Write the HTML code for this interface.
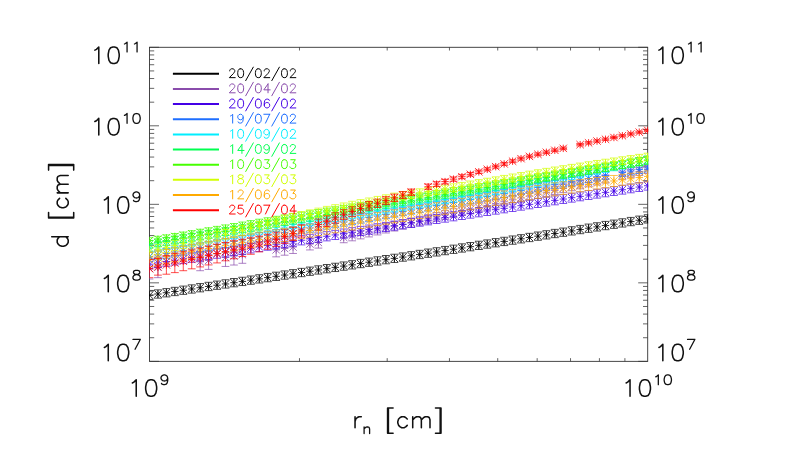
<!DOCTYPE html>
<html><head><meta charset="utf-8"><title>d vs r_n</title>
<style>html,body{margin:0;padding:0;background:#fff;overflow:hidden;font-family:"Liberation Sans",sans-serif;}svg{display:block}</style></head>
<body>
<svg width="797" height="456" viewBox="0 0 797 456">
<rect x="0" y="0" width="797" height="456" fill="#ffffff"/>
<g fill="none" stroke="#333" stroke-width="0.90" stroke-linecap="butt">
<rect x="149.50" y="47.30" width="498.20" height="314.05"/>
<path stroke-width="0.75" d="M149.50 361.35h9.50M647.70 361.35h-9.50M149.50 337.72h4.70M647.70 337.72h-4.70M149.50 323.89h4.70M647.70 323.89h-4.70M149.50 314.08h4.70M647.70 314.08h-4.70M149.50 306.47h4.70M647.70 306.47h-4.70M149.50 300.26h4.70M647.70 300.26h-4.70M149.50 295.00h4.70M647.70 295.00h-4.70M149.50 290.45h4.70M647.70 290.45h-4.70M149.50 286.43h4.70M647.70 286.43h-4.70M149.50 282.84h9.50M647.70 282.84h-9.50M149.50 259.20h4.70M647.70 259.20h-4.70M149.50 245.38h4.70M647.70 245.38h-4.70M149.50 235.57h4.70M647.70 235.57h-4.70M149.50 227.96h4.70M647.70 227.96h-4.70M149.50 221.74h4.70M647.70 221.74h-4.70M149.50 216.49h4.70M647.70 216.49h-4.70M149.50 211.93h4.70M647.70 211.93h-4.70M149.50 207.92h4.70M647.70 207.92h-4.70M149.50 204.33h9.50M647.70 204.33h-9.50M149.50 180.69h4.70M647.70 180.69h-4.70M149.50 166.87h4.70M647.70 166.87h-4.70M149.50 157.06h4.70M647.70 157.06h-4.70M149.50 149.45h4.70M647.70 149.45h-4.70M149.50 143.23h4.70M647.70 143.23h-4.70M149.50 137.97h4.70M647.70 137.97h-4.70M149.50 133.42h4.70M647.70 133.42h-4.70M149.50 129.41h4.70M647.70 129.41h-4.70M149.50 125.81h9.50M647.70 125.81h-9.50M149.50 102.18h4.70M647.70 102.18h-4.70M149.50 88.35h4.70M647.70 88.35h-4.70M149.50 78.54h4.70M647.70 78.54h-4.70M149.50 70.93h4.70M647.70 70.93h-4.70M149.50 64.72h4.70M647.70 64.72h-4.70M149.50 59.46h4.70M647.70 59.46h-4.70M149.50 54.91h4.70M647.70 54.91h-4.70M149.50 50.89h4.70M647.70 50.89h-4.70M149.50 47.30h9.50M647.70 47.30h-9.50M299.47 361.35v-3.20M299.47 47.30v3.20M387.20 361.35v-3.20M387.20 47.30v3.20M449.45 361.35v-3.20M449.45 47.30v3.20M497.73 361.35v-3.20M497.73 47.30v3.20M537.17 361.35v-3.20M537.17 47.30v3.20M570.53 361.35v-3.20M570.53 47.30v3.20M599.42 361.35v-3.20M599.42 47.30v3.20M624.90 361.35v-3.20M624.90 47.30v3.20"/>
</g>
<defs><clipPath id="c"><rect x="149.50" y="47.30" width="498.70" height="314.05"/></clipPath></defs>
<g clip-path="url(#c)" fill="none" stroke-width="0.78" stroke-linecap="butt">
<path stroke="#000000" stroke-width="0.70" d="M149.50 291.10V299.40M145.60 291.10H153.40M145.60 299.40H153.40M157.94 289.85V298.15M154.04 289.85H161.84M154.04 298.15H161.84M166.39 288.60V296.90M162.49 288.60H170.29M162.49 296.90H170.29M174.83 287.34V295.64M170.93 287.34H178.73M170.93 295.64H178.73M183.28 286.09V294.39M179.38 286.09H187.18M179.38 294.39H187.18M191.72 284.83V293.13M187.82 284.83H195.62M187.82 293.13H195.62M200.16 283.57V291.87M196.26 283.57H204.06M196.26 291.87H204.06M208.61 282.31V290.61M204.71 282.31H212.51M204.71 290.61H212.51M217.05 281.05V289.35M213.15 281.05H220.95M213.15 289.35H220.95M225.50 279.79V288.09M221.60 279.79H229.40M221.60 288.09H229.40M233.94 278.53V286.82M230.04 278.53H237.84M230.04 286.82H237.84M242.38 277.26V285.56M238.48 277.26H246.28M238.48 285.56H246.28M250.83 275.99V284.29M246.93 275.99H254.73M246.93 284.29H254.73M259.27 274.72V283.02M255.37 274.72H263.17M255.37 283.02H263.17M267.72 273.45V281.75M263.82 273.45H271.62M263.82 281.75H271.62M276.16 272.18V280.48M272.26 272.18H280.06M272.26 280.48H280.06M284.61 270.91V279.21M280.71 270.91H288.51M280.71 279.21H288.51M293.05 269.63V277.93M289.15 269.63H296.95M289.15 277.93H296.95M301.49 268.36V276.66M297.59 268.36H305.39M297.59 276.66H305.39M309.94 267.08V275.38M306.04 267.08H313.84M306.04 275.38H313.84M318.38 265.80V274.10M314.48 265.80H322.28M314.48 274.10H322.28M326.83 264.52V272.82M322.93 264.52H330.73M322.93 272.82H330.73M335.27 263.24V271.54M331.37 263.24H339.17M331.37 271.54H339.17M343.71 261.95V270.25M339.81 261.95H347.61M339.81 270.25H347.61M352.16 260.67V268.97M348.26 260.67H356.06M348.26 268.97H356.06M360.60 259.38V267.68M356.70 259.38H364.50M356.70 267.68H364.50M369.05 258.09V266.39M365.15 258.09H372.95M365.15 266.39H372.95M377.49 256.80V265.10M373.59 256.80H381.39M373.59 265.10H381.39M385.93 255.51V263.81M382.03 255.51H389.83M382.03 263.81H389.83M394.38 254.22V262.52M390.48 254.22H398.28M390.48 262.52H398.28M402.82 252.92V261.22M398.92 252.92H406.72M398.92 261.22H406.72M411.27 251.63V259.93M407.37 251.63H415.17M407.37 259.93H415.17M419.71 250.33V258.63M415.81 250.33H423.61M415.81 258.63H423.61M428.15 249.03V257.33M424.25 249.03H432.05M424.25 257.33H432.05M436.60 247.73V256.03M432.70 247.73H440.50M432.70 256.03H440.50M445.04 246.43V254.73M441.14 246.43H448.94M441.14 254.73H448.94M453.49 245.13V253.43M449.59 245.13H457.39M449.59 253.43H457.39M461.93 243.82V252.12M458.03 243.82H465.83M458.03 252.12H465.83M470.37 242.52V250.82M466.47 242.52H474.27M466.47 250.82H474.27M478.82 241.21V249.51M474.92 241.21H482.72M474.92 249.51H482.72M487.26 239.90V248.20M483.36 239.90H491.16M483.36 248.20H491.16M495.71 238.59V246.89M491.81 238.59H499.61M491.81 246.89H499.61M504.15 237.28V245.58M500.25 237.28H508.05M500.25 245.58H508.05M512.59 235.96V244.26M508.69 235.96H516.49M508.69 244.26H516.49M521.04 234.65V242.95M517.14 234.65H524.94M517.14 242.95H524.94M529.48 233.33V241.63M525.58 233.33H533.38M525.58 241.63H533.38M537.93 232.01V240.31M534.03 232.01H541.83M534.03 240.31H541.83M546.37 230.69V238.99M542.47 230.69H550.27M542.47 238.99H550.27M554.82 229.37V237.67M550.92 229.37H558.72M550.92 237.67H558.72M563.26 228.05V236.35M559.36 228.05H567.16M559.36 236.35H567.16M571.70 226.72V235.03M567.80 226.72H575.60M567.80 235.03H575.60M580.15 225.40V233.70M576.25 225.40H584.05M576.25 233.70H584.05M588.59 224.07V232.37M584.69 224.07H592.49M584.69 232.37H592.49M597.04 222.74V231.04M593.14 222.74H600.94M593.14 231.04H600.94M605.48 221.41V229.71M601.58 221.41H609.38M601.58 229.71H609.38M613.92 220.08V228.38M610.02 220.08H617.82M610.02 228.38H617.82M622.37 218.75V227.05M618.47 218.75H626.27M618.47 227.05H626.27M630.81 217.41V225.71M626.91 217.41H634.71M626.91 225.71H634.71M639.26 216.08V224.38M635.36 216.08H643.16M635.36 224.38H643.16M647.70 214.74V223.04M643.80 214.74H651.60M643.80 223.04H651.60"/>
<path stroke="#000000" stroke-width="0.82" d="M145.80 295.25H153.20M149.50 291.55V298.95M145.80 291.55L153.20 298.95M145.80 298.95L153.20 291.55M154.24 294.00H161.64M157.94 290.30V297.70M154.24 290.30L161.64 297.70M154.24 297.70L161.64 290.30M162.69 292.75H170.09M166.39 289.05V296.45M162.69 289.05L170.09 296.45M162.69 296.45L170.09 289.05M171.13 291.49H178.53M174.83 287.79V295.19M171.13 287.79L178.53 295.19M171.13 295.19L178.53 287.79M179.58 290.24H186.98M183.28 286.54V293.94M179.58 286.54L186.98 293.94M179.58 293.94L186.98 286.54M188.02 288.98H195.42M191.72 285.28V292.68M188.02 285.28L195.42 292.68M188.02 292.68L195.42 285.28M196.46 287.72H203.86M200.16 284.02V291.42M196.46 284.02L203.86 291.42M196.46 291.42L203.86 284.02M204.91 286.46H212.31M208.61 282.76V290.16M204.91 282.76L212.31 290.16M204.91 290.16L212.31 282.76M213.35 285.20H220.75M217.05 281.50V288.90M213.35 281.50L220.75 288.90M213.35 288.90L220.75 281.50M221.80 283.94H229.20M225.50 280.24V287.64M221.80 280.24L229.20 287.64M221.80 287.64L229.20 280.24M230.24 282.68H237.64M233.94 278.98V286.38M230.24 278.98L237.64 286.38M230.24 286.38L237.64 278.98M238.68 281.41H246.08M242.38 277.71V285.11M238.68 277.71L246.08 285.11M238.68 285.11L246.08 277.71M247.13 280.14H254.53M250.83 276.44V283.84M247.13 276.44L254.53 283.84M247.13 283.84L254.53 276.44M255.57 278.87H262.97M259.27 275.17V282.57M255.57 275.17L262.97 282.57M255.57 282.57L262.97 275.17M264.02 277.60H271.42M267.72 273.90V281.30M264.02 273.90L271.42 281.30M264.02 281.30L271.42 273.90M272.46 276.33H279.86M276.16 272.63V280.03M272.46 272.63L279.86 280.03M272.46 280.03L279.86 272.63M280.91 275.06H288.31M284.61 271.36V278.76M280.91 271.36L288.31 278.76M280.91 278.76L288.31 271.36M289.35 273.78H296.75M293.05 270.08V277.48M289.35 270.08L296.75 277.48M289.35 277.48L296.75 270.08M297.79 272.51H305.19M301.49 268.81V276.21M297.79 268.81L305.19 276.21M297.79 276.21L305.19 268.81M306.24 271.23H313.64M309.94 267.53V274.93M306.24 267.53L313.64 274.93M306.24 274.93L313.64 267.53M314.68 269.95H322.08M318.38 266.25V273.65M314.68 266.25L322.08 273.65M314.68 273.65L322.08 266.25M323.13 268.67H330.53M326.83 264.97V272.37M323.13 264.97L330.53 272.37M323.13 272.37L330.53 264.97M331.57 267.39H338.97M335.27 263.69V271.09M331.57 263.69L338.97 271.09M331.57 271.09L338.97 263.69M340.01 266.10H347.41M343.71 262.40V269.80M340.01 262.40L347.41 269.80M340.01 269.80L347.41 262.40M348.46 264.82H355.86M352.16 261.12V268.52M348.46 261.12L355.86 268.52M348.46 268.52L355.86 261.12M356.90 263.53H364.30M360.60 259.83V267.23M356.90 259.83L364.30 267.23M356.90 267.23L364.30 259.83M365.35 262.24H372.75M369.05 258.54V265.94M365.35 258.54L372.75 265.94M365.35 265.94L372.75 258.54M373.79 260.95H381.19M377.49 257.25V264.65M373.79 257.25L381.19 264.65M373.79 264.65L381.19 257.25M382.23 259.66H389.63M385.93 255.96V263.36M382.23 255.96L389.63 263.36M382.23 263.36L389.63 255.96M390.68 258.37H398.08M394.38 254.67V262.07M390.68 254.67L398.08 262.07M390.68 262.07L398.08 254.67M399.12 257.07H406.52M402.82 253.38V260.77M399.12 253.38L406.52 260.77M399.12 260.77L406.52 253.38M407.57 255.78H414.97M411.27 252.08V259.48M407.57 252.08L414.97 259.48M407.57 259.48L414.97 252.08M416.01 254.48H423.41M419.71 250.78V258.18M416.01 250.78L423.41 258.18M416.01 258.18L423.41 250.78M424.45 253.18H431.85M428.15 249.48V256.88M424.45 249.48L431.85 256.88M424.45 256.88L431.85 249.48M432.90 251.88H440.30M436.60 248.18V255.58M432.90 248.18L440.30 255.58M432.90 255.58L440.30 248.18M441.34 250.58H448.74M445.04 246.88V254.28M441.34 246.88L448.74 254.28M441.34 254.28L448.74 246.88M449.79 249.28H457.19M453.49 245.58V252.98M449.79 245.58L457.19 252.98M449.79 252.98L457.19 245.58M458.23 247.97H465.63M461.93 244.27V251.67M458.23 244.27L465.63 251.67M458.23 251.67L465.63 244.27M466.67 246.67H474.07M470.37 242.97V250.37M466.67 242.97L474.07 250.37M466.67 250.37L474.07 242.97M475.12 245.36H482.52M478.82 241.66V249.06M475.12 241.66L482.52 249.06M475.12 249.06L482.52 241.66M483.56 244.05H490.96M487.26 240.35V247.75M483.56 240.35L490.96 247.75M483.56 247.75L490.96 240.35M492.01 242.74H499.41M495.71 239.04V246.44M492.01 239.04L499.41 246.44M492.01 246.44L499.41 239.04M500.45 241.43H507.85M504.15 237.73V245.13M500.45 237.73L507.85 245.13M500.45 245.13L507.85 237.73M508.89 240.11H516.29M512.59 236.41V243.81M508.89 236.41L516.29 243.81M508.89 243.81L516.29 236.41M517.34 238.80H524.74M521.04 235.10V242.50M517.34 235.10L524.74 242.50M517.34 242.50L524.74 235.10M525.78 237.48H533.18M529.48 233.78V241.18M525.78 233.78L533.18 241.18M525.78 241.18L533.18 233.78M534.23 236.16H541.63M537.93 232.46V239.86M534.23 232.46L541.63 239.86M534.23 239.86L541.63 232.46M542.67 234.84H550.07M546.37 231.14V238.54M542.67 231.14L550.07 238.54M542.67 238.54L550.07 231.14M551.12 233.52H558.52M554.82 229.82V237.22M551.12 229.82L558.52 237.22M551.12 237.22L558.52 229.82M559.56 232.20H566.96M563.26 228.50V235.90M559.56 228.50L566.96 235.90M559.56 235.90L566.96 228.50M568.00 230.88H575.40M571.70 227.18V234.57M568.00 227.18L575.40 234.57M568.00 234.57L575.40 227.18M576.45 229.55H583.85M580.15 225.85V233.25M576.45 225.85L583.85 233.25M576.45 233.25L583.85 225.85M584.89 228.22H592.29M588.59 224.52V231.92M584.89 224.52L592.29 231.92M584.89 231.92L592.29 224.52M593.34 226.89H600.74M597.04 223.19V230.59M593.34 223.19L600.74 230.59M593.34 230.59L600.74 223.19M601.78 225.56H609.18M605.48 221.86V229.26M601.78 221.86L609.18 229.26M601.78 229.26L609.18 221.86M610.22 224.23H617.62M613.92 220.53V227.93M610.22 220.53L617.62 227.93M610.22 227.93L617.62 220.53M618.67 222.90H626.07M622.37 219.20V226.60M618.67 219.20L626.07 226.60M618.67 226.60L626.07 219.20M627.11 221.56H634.51M630.81 217.86V225.26M627.11 217.86L634.51 225.26M627.11 225.26L634.51 217.86M635.56 220.23H642.96M639.26 216.53V223.93M635.56 216.53L642.96 223.93M635.56 223.93L642.96 216.53M644.00 218.89H651.40M647.70 215.19V222.59M644.00 215.19L651.40 222.59M644.00 222.59L651.40 215.19"/>
<path stroke="#8A4CAC" stroke-width="0.70" d="M149.50 258.00V279.00M145.60 258.00H153.40M145.60 279.00H153.40M157.94 257.06V277.66M154.04 257.06H161.84M154.04 277.66H161.84M200.16 252.91V270.71M196.26 252.91H204.06M196.26 270.71H204.06M208.61 251.50V269.40M204.71 251.50H212.51M204.71 269.40H212.51M225.50 248.34V266.44M221.60 248.34H229.40M221.60 266.44H229.40M233.94 246.83V265.03M230.04 246.83H237.84M230.04 265.03H237.84M242.38 245.94V263.30M238.48 245.94H246.28M238.48 263.30H246.28M276.16 242.84V256.84M272.26 242.84H280.06M272.26 256.84H280.06M284.61 241.76V255.20M280.71 241.76H288.51M280.71 255.20H288.51M293.05 240.59V253.47M289.15 240.59H296.95M289.15 253.47H296.95M309.94 238.17V249.93M306.04 238.17H313.84M306.04 249.93H313.84M318.38 236.90V248.10M314.48 236.90H322.28M314.48 248.10H322.28M343.71 232.12V242.72M339.81 232.12H347.61M339.81 242.72H347.61M352.16 230.41V240.81M348.26 230.41H356.06M348.26 240.81H356.06M360.60 228.66V238.86M356.70 228.66H364.50M356.70 238.86H364.50M369.05 226.90V236.90M365.15 226.90H372.95M365.15 236.90H372.95M377.49 225.13V234.93M373.59 225.13H381.39M373.59 234.93H381.39M385.93 223.37V232.97M382.03 223.37H389.83M382.03 232.97H389.83M394.38 221.60V231.00M390.48 221.60H398.28M390.48 231.00H398.28M402.82 219.83V229.03M398.92 219.83H406.72M398.92 229.03H406.72M411.27 218.06V227.06M407.37 218.06H415.17M407.37 227.06H415.17M419.71 216.29V225.09M415.81 216.29H423.61M415.81 225.09H423.61M428.15 214.41V223.19M424.25 214.41H432.05M424.25 223.19H432.05M436.60 212.54V221.28M432.70 212.54H440.50M432.70 221.28H440.50M445.04 210.66V219.37M441.14 210.66H448.94M441.14 219.37H448.94M453.49 208.77V217.46M449.59 208.77H457.39M449.59 217.46H457.39M461.93 206.89V215.54M458.03 206.89H465.83M458.03 215.54H465.83M470.37 205.01V213.63M466.47 205.01H474.27M466.47 213.63H474.27M478.82 203.13V211.72M474.92 203.13H482.72M474.92 211.72H482.72M487.26 201.25V209.81M483.36 201.25H491.16M483.36 209.81H491.16M495.71 199.37V207.90M491.81 199.37H499.61M491.81 207.90H499.61M504.15 197.49V205.99M500.25 197.49H508.05M500.25 205.99H508.05M512.59 195.60V204.08M508.69 195.60H516.49M508.69 204.08H516.49M521.04 193.72V202.17M517.14 193.72H524.94M517.14 202.17H524.94M529.48 191.84V200.26M525.58 191.84H533.38M525.58 200.26H533.38M537.93 189.96V198.34M534.03 189.96H541.83M534.03 198.34H541.83M546.37 188.08V196.43M542.47 188.08H550.27M542.47 196.43H550.27M554.82 186.20V194.52M550.92 186.20H558.72M550.92 194.52H558.72M563.26 184.31V192.61M559.36 184.31H567.16M559.36 192.61H567.16M571.70 182.43V190.70M567.80 182.43H575.60M567.80 190.70H575.60M580.15 180.55V188.79M576.25 180.55H584.05M576.25 188.79H584.05M588.59 178.67V186.88M584.69 178.67H592.49M584.69 186.88H592.49M597.04 176.79V184.97M593.14 176.79H600.94M593.14 184.97H600.94M605.48 174.91V183.06M601.58 174.91H609.38M601.58 183.06H609.38M622.37 171.14V179.23M618.47 171.14H626.27M618.47 179.23H626.27M630.81 169.26V177.32M626.91 169.26H634.71M626.91 177.32H634.71M639.26 167.38V175.41M635.36 167.38H643.16M635.36 175.41H643.16M647.70 165.50V173.50M643.80 165.50H651.60M643.80 173.50H651.60"/>
<path stroke="#8A4CAC" stroke-width="0.82" d="M145.80 268.50H153.20M149.50 264.80V272.20M145.80 264.80L153.20 272.20M145.80 272.20L153.20 264.80M154.24 267.36H161.64M157.94 263.66V271.06M154.24 263.66L161.64 271.06M154.24 271.06L161.64 263.66M196.46 261.81H203.86M200.16 258.11V265.51M196.46 258.11L203.86 265.51M196.46 265.51L203.86 258.11M204.91 260.45H212.31M208.61 256.75V264.15M204.91 256.75L212.31 264.15M204.91 264.15L212.31 256.75M221.80 257.39H229.20M225.50 253.69V261.09M221.80 253.69L229.20 261.09M221.80 261.09L229.20 253.69M230.24 255.93H237.64M233.94 252.23V259.63M230.24 252.23L237.64 259.63M230.24 259.63L237.64 252.23M238.68 254.62H246.08M242.38 250.92V258.32M238.68 250.92L246.08 258.32M238.68 258.32L246.08 250.92M272.46 249.84H279.86M276.16 246.14V253.54M272.46 246.14L279.86 253.54M272.46 253.54L279.86 246.14M280.91 248.48H288.31M284.61 244.78V252.18M280.91 244.78L288.31 252.18M280.91 252.18L288.31 244.78M289.35 247.03H296.75M293.05 243.33V250.73M289.35 243.33L296.75 250.73M289.35 250.73L296.75 243.33M306.24 244.05H313.64M309.94 240.35V247.75M306.24 240.35L313.64 247.75M306.24 247.75L313.64 240.35M314.68 242.50H322.08M318.38 238.80V246.20M314.68 238.80L322.08 246.20M314.68 246.20L322.08 238.80M340.01 237.42H347.41M343.71 233.72V241.12M340.01 233.72L347.41 241.12M340.01 241.12L347.41 233.72M348.46 235.61H355.86M352.16 231.91V239.31M348.46 231.91L355.86 239.31M348.46 239.31L355.86 231.91M356.90 233.76H364.30M360.60 230.06V237.46M356.90 230.06L364.30 237.46M356.90 237.46L364.30 230.06M365.35 231.90H372.75M369.05 228.20V235.60M365.35 228.20L372.75 235.60M365.35 235.60L372.75 228.20M373.79 230.03H381.19M377.49 226.33V233.73M373.79 226.33L381.19 233.73M373.79 233.73L381.19 226.33M382.23 228.17H389.63M385.93 224.47V231.87M382.23 224.47L389.63 231.87M382.23 231.87L389.63 224.47M390.68 226.30H398.08M394.38 222.60V230.00M390.68 222.60L398.08 230.00M390.68 230.00L398.08 222.60M399.12 224.43H406.52M402.82 220.73V228.13M399.12 220.73L406.52 228.13M399.12 228.13L406.52 220.73M407.57 222.56H414.97M411.27 218.86V226.26M407.57 218.86L414.97 226.26M407.57 226.26L414.97 218.86M416.01 220.69H423.41M419.71 216.99V224.39M416.01 216.99L423.41 224.39M416.01 224.39L423.41 216.99M424.45 218.80H431.85M428.15 215.10V222.50M424.45 215.10L431.85 222.50M424.45 222.50L431.85 215.10M432.90 216.91H440.30M436.60 213.21V220.61M432.90 213.21L440.30 220.61M432.90 220.61L440.30 213.21M441.34 215.01H448.74M445.04 211.31V218.71M441.34 211.31L448.74 218.71M441.34 218.71L448.74 211.31M449.79 213.11H457.19M453.49 209.41V216.81M449.79 209.41L457.19 216.81M449.79 216.81L457.19 209.41M458.23 211.22H465.63M461.93 207.52V214.92M458.23 207.52L465.63 214.92M458.23 214.92L465.63 207.52M466.67 209.32H474.07M470.37 205.62V213.02M466.67 205.62L474.07 213.02M466.67 213.02L474.07 205.62M475.12 207.43H482.52M478.82 203.73V211.13M475.12 203.73L482.52 211.13M475.12 211.13L482.52 203.73M483.56 205.53H490.96M487.26 201.83V209.23M483.56 201.83L490.96 209.23M483.56 209.23L490.96 201.83M492.01 203.63H499.41M495.71 199.93V207.33M492.01 199.93L499.41 207.33M492.01 207.33L499.41 199.93M500.45 201.74H507.85M504.15 198.04V205.44M500.45 198.04L507.85 205.44M500.45 205.44L507.85 198.04M508.89 199.84H516.29M512.59 196.14V203.54M508.89 196.14L516.29 203.54M508.89 203.54L516.29 196.14M517.34 197.94H524.74M521.04 194.24V201.64M517.34 194.24L524.74 201.64M517.34 201.64L524.74 194.24M525.78 196.05H533.18M529.48 192.35V199.75M525.78 192.35L533.18 199.75M525.78 199.75L533.18 192.35M534.23 194.15H541.63M537.93 190.45V197.85M534.23 190.45L541.63 197.85M534.23 197.85L541.63 190.45M542.67 192.26H550.07M546.37 188.56V195.96M542.67 188.56L550.07 195.96M542.67 195.96L550.07 188.56M551.12 190.36H558.52M554.82 186.66V194.06M551.12 186.66L558.52 194.06M551.12 194.06L558.52 186.66M559.56 188.46H566.96M563.26 184.76V192.16M559.56 184.76L566.96 192.16M559.56 192.16L566.96 184.76M568.00 186.57H575.40M571.70 182.87V190.27M568.00 182.87L575.40 190.27M568.00 190.27L575.40 182.87M576.45 184.67H583.85M580.15 180.97V188.37M576.45 180.97L583.85 188.37M576.45 188.37L583.85 180.97M584.89 182.77H592.29M588.59 179.07V186.47M584.89 179.07L592.29 186.47M584.89 186.47L592.29 179.07M593.34 180.88H600.74M597.04 177.18V184.58M593.34 177.18L600.74 184.58M593.34 184.58L600.74 177.18M601.78 178.98H609.18M605.48 175.28V182.68M601.78 175.28L609.18 182.68M601.78 182.68L609.18 175.28M618.67 175.19H626.07M622.37 171.49V178.89M618.67 171.49L626.07 178.89M618.67 178.89L626.07 171.49M627.11 173.29H634.51M630.81 169.59V176.99M627.11 169.59L634.51 176.99M627.11 176.99L634.51 169.59M635.56 171.40H642.96M639.26 167.70V175.10M635.56 167.70L642.96 175.10M635.56 175.10L642.96 167.70M644.00 169.50H651.40M647.70 165.80V173.20M644.00 165.80L651.40 173.20M644.00 173.20L651.40 165.80"/>
<path stroke="#4400E6" stroke-width="0.70" d="M149.50 259.40V269.00M145.60 259.40H153.40M145.60 269.00H153.40M157.94 258.08V267.66M154.04 258.08H161.84M154.04 267.66H161.84M166.39 256.76V266.32M162.49 256.76H170.29M162.49 266.32H170.29M174.83 255.44V264.98M170.93 255.44H178.73M170.93 264.98H178.73M183.28 254.12V263.64M179.38 254.12H187.18M179.38 263.64H187.18M191.72 252.80V262.30M187.82 252.80H195.62M187.82 262.30H195.62M200.16 251.48V260.96M196.26 251.48H204.06M196.26 260.96H204.06M208.61 250.16V259.62M204.71 250.16H212.51M204.71 259.62H212.51M217.05 248.84V258.28M213.15 248.84H220.95M213.15 258.28H220.95M225.50 247.52V256.94M221.60 247.52H229.40M221.60 256.94H229.40M233.94 246.20V255.60M230.04 246.20H237.84M230.04 255.60H237.84M242.38 244.88V254.26M238.48 244.88H246.28M238.48 254.26H246.28M250.83 243.56V252.92M246.93 243.56H254.73M246.93 252.92H254.73M259.27 242.24V251.58M255.37 242.24H263.17M255.37 251.58H263.17M267.72 240.92V250.24M263.82 240.92H271.62M263.82 250.24H271.62M276.16 239.60V248.90M272.26 239.60H280.06M272.26 248.90H280.06M284.61 238.28V247.56M280.71 238.28H288.51M280.71 247.56H288.51M293.05 236.96V246.22M289.15 236.96H296.95M289.15 246.22H296.95M301.49 235.64V244.88M297.59 235.64H305.39M297.59 244.88H305.39M309.94 234.32V243.54M306.04 234.32H313.84M306.04 243.54H313.84M318.38 233.00V242.20M314.48 233.00H322.28M314.48 242.20H322.28M326.83 231.68V240.86M322.93 231.68H330.73M322.93 240.86H330.73M335.27 230.35V239.53M331.37 230.35H339.17M331.37 239.53H339.17M343.71 229.03V238.19M339.81 229.03H347.61M339.81 238.19H347.61M352.16 227.70V236.86M348.26 227.70H356.06M348.26 236.86H356.06M360.60 226.38V235.52M356.70 226.38H364.50M356.70 235.52H364.50M369.05 225.05V234.19M365.15 225.05H372.95M365.15 234.19H372.95M377.49 223.73V232.85M373.59 223.73H381.39M373.59 232.85H381.39M385.93 222.40V231.52M382.03 222.40H389.83M382.03 231.52H389.83M394.38 221.08V230.18M390.48 221.08H398.28M390.48 230.18H398.28M402.82 219.75V228.85M398.92 219.75H406.72M398.92 228.85H406.72M411.27 218.43V227.51M407.37 218.43H415.17M407.37 227.51H415.17M419.71 217.10V226.18M415.81 217.10H423.61M415.81 226.18H423.61M428.15 215.78V224.84M424.25 215.78H432.05M424.25 224.84H432.05M436.60 214.45V223.51M432.70 214.45H440.50M432.70 223.51H440.50M445.04 213.13V222.17M441.14 213.13H448.94M441.14 222.17H448.94M453.49 211.80V220.84M449.59 211.80H457.39M449.59 220.84H457.39M461.93 210.48V219.50M458.03 210.48H465.83M458.03 219.50H465.83M470.37 209.15V218.17M466.47 209.15H474.27M466.47 218.17H474.27M478.82 207.83V216.83M474.92 207.83H482.72M474.92 216.83H482.72M487.26 206.50V215.50M483.36 206.50H491.16M483.36 215.50H491.16M495.71 205.18V214.16M491.81 205.18H499.61M491.81 214.16H499.61M504.15 203.85V212.83M500.25 203.85H508.05M500.25 212.83H508.05M512.59 202.53V211.49M508.69 202.53H516.49M508.69 211.49H516.49M521.04 201.20V210.16M517.14 201.20H524.94M517.14 210.16H524.94M529.48 199.88V208.82M525.58 199.88H533.38M525.58 208.82H533.38M537.93 198.55V207.49M534.03 198.55H541.83M534.03 207.49H541.83M546.37 197.23V206.15M542.47 197.23H550.27M542.47 206.15H550.27M554.82 195.90V204.82M550.92 195.90H558.72M550.92 204.82H558.72M563.26 194.58V203.48M559.36 194.58H567.16M559.36 203.48H567.16M571.70 193.25V202.15M567.80 193.25H575.60M567.80 202.15H575.60M580.15 191.93V200.81M576.25 191.93H584.05M576.25 200.81H584.05M588.59 190.60V199.48M584.69 190.60H592.49M584.69 199.48H592.49M597.04 189.28V198.14M593.14 189.28H600.94M593.14 198.14H600.94M605.48 187.95V196.81M601.58 187.95H609.38M601.58 196.81H609.38M613.92 186.63V195.47M610.02 186.63H617.82M610.02 195.47H617.82M622.37 185.30V194.14M618.47 185.30H626.27M618.47 194.14H626.27M630.81 183.98V192.80M626.91 183.98H634.71M626.91 192.80H634.71M639.26 182.65V191.47M635.36 182.65H643.16M635.36 191.47H643.16M647.70 181.33V190.13M643.80 181.33H651.60M643.80 190.13H651.60"/>
<path stroke="#4400E6" stroke-width="0.82" d="M145.80 264.20H153.20M149.50 260.50V267.90M145.80 260.50L153.20 267.90M145.80 267.90L153.20 260.50M154.24 262.87H161.64M157.94 259.17V266.57M154.24 259.17L161.64 266.57M154.24 266.57L161.64 259.17M162.69 261.54H170.09M166.39 257.84V265.24M162.69 257.84L170.09 265.24M162.69 265.24L170.09 257.84M171.13 260.21H178.53M174.83 256.51V263.91M171.13 256.51L178.53 263.91M171.13 263.91L178.53 256.51M179.58 258.88H186.98M183.28 255.18V262.58M179.58 255.18L186.98 262.58M179.58 262.58L186.98 255.18M188.02 257.55H195.42M191.72 253.85V261.25M188.02 253.85L195.42 261.25M188.02 261.25L195.42 253.85M196.46 256.22H203.86M200.16 252.52V259.92M196.46 252.52L203.86 259.92M196.46 259.92L203.86 252.52M204.91 254.89H212.31M208.61 251.19V258.59M204.91 251.19L212.31 258.59M204.91 258.59L212.31 251.19M213.35 253.56H220.75M217.05 249.86V257.26M213.35 249.86L220.75 257.26M213.35 257.26L220.75 249.86M221.80 252.23H229.20M225.50 248.53V255.93M221.80 248.53L229.20 255.93M221.80 255.93L229.20 248.53M230.24 250.90H237.64M233.94 247.20V254.60M230.24 247.20L237.64 254.60M230.24 254.60L237.64 247.20M238.68 249.57H246.08M242.38 245.87V253.27M238.68 245.87L246.08 253.27M238.68 253.27L246.08 245.87M247.13 248.24H254.53M250.83 244.54V251.94M247.13 244.54L254.53 251.94M247.13 251.94L254.53 244.54M255.57 246.91H262.97M259.27 243.21V250.61M255.57 243.21L262.97 250.61M255.57 250.61L262.97 243.21M264.02 245.58H271.42M267.72 241.88V249.28M264.02 241.88L271.42 249.28M264.02 249.28L271.42 241.88M272.46 244.25H279.86M276.16 240.55V247.95M272.46 240.55L279.86 247.95M272.46 247.95L279.86 240.55M280.91 242.92H288.31M284.61 239.22V246.62M280.91 239.22L288.31 246.62M280.91 246.62L288.31 239.22M289.35 241.59H296.75M293.05 237.89V245.29M289.35 237.89L296.75 245.29M289.35 245.29L296.75 237.89M297.79 240.26H305.19M301.49 236.56V243.96M297.79 236.56L305.19 243.96M297.79 243.96L305.19 236.56M306.24 238.93H313.64M309.94 235.23V242.63M306.24 235.23L313.64 242.63M306.24 242.63L313.64 235.23M314.68 237.60H322.08M318.38 233.90V241.30M314.68 233.90L322.08 241.30M314.68 241.30L322.08 233.90M323.13 236.27H330.53M326.83 232.57V239.97M323.13 232.57L330.53 239.97M323.13 239.97L330.53 232.57M331.57 234.94H338.97M335.27 231.24V238.64M331.57 231.24L338.97 238.64M331.57 238.64L338.97 231.24M340.01 233.61H347.41M343.71 229.91V237.31M340.01 229.91L347.41 237.31M340.01 237.31L347.41 229.91M348.46 232.28H355.86M352.16 228.58V235.98M348.46 228.58L355.86 235.98M348.46 235.98L355.86 228.58M356.90 230.95H364.30M360.60 227.25V234.65M356.90 227.25L364.30 234.65M356.90 234.65L364.30 227.25M365.35 229.62H372.75M369.05 225.92V233.32M365.35 225.92L372.75 233.32M365.35 233.32L372.75 225.92M373.79 228.29H381.19M377.49 224.59V231.99M373.79 224.59L381.19 231.99M373.79 231.99L381.19 224.59M382.23 226.96H389.63M385.93 223.26V230.66M382.23 223.26L389.63 230.66M382.23 230.66L389.63 223.26M390.68 225.63H398.08M394.38 221.93V229.33M390.68 221.93L398.08 229.33M390.68 229.33L398.08 221.93M399.12 224.30H406.52M402.82 220.60V228.00M399.12 220.60L406.52 228.00M399.12 228.00L406.52 220.60M407.57 222.97H414.97M411.27 219.27V226.67M407.57 219.27L414.97 226.67M407.57 226.67L414.97 219.27M416.01 221.64H423.41M419.71 217.94V225.34M416.01 217.94L423.41 225.34M416.01 225.34L423.41 217.94M424.45 220.31H431.85M428.15 216.61V224.01M424.45 216.61L431.85 224.01M424.45 224.01L431.85 216.61M432.90 218.98H440.30M436.60 215.28V222.68M432.90 215.28L440.30 222.68M432.90 222.68L440.30 215.28M441.34 217.65H448.74M445.04 213.95V221.35M441.34 213.95L448.74 221.35M441.34 221.35L448.74 213.95M449.79 216.32H457.19M453.49 212.62V220.02M449.79 212.62L457.19 220.02M449.79 220.02L457.19 212.62M458.23 214.99H465.63M461.93 211.29V218.69M458.23 211.29L465.63 218.69M458.23 218.69L465.63 211.29M466.67 213.66H474.07M470.37 209.96V217.36M466.67 209.96L474.07 217.36M466.67 217.36L474.07 209.96M475.12 212.33H482.52M478.82 208.63V216.03M475.12 208.63L482.52 216.03M475.12 216.03L482.52 208.63M483.56 211.00H490.96M487.26 207.30V214.70M483.56 207.30L490.96 214.70M483.56 214.70L490.96 207.30M492.01 209.67H499.41M495.71 205.97V213.37M492.01 205.97L499.41 213.37M492.01 213.37L499.41 205.97M500.45 208.34H507.85M504.15 204.64V212.04M500.45 204.64L507.85 212.04M500.45 212.04L507.85 204.64M508.89 207.01H516.29M512.59 203.31V210.71M508.89 203.31L516.29 210.71M508.89 210.71L516.29 203.31M517.34 205.68H524.74M521.04 201.98V209.38M517.34 201.98L524.74 209.38M517.34 209.38L524.74 201.98M525.78 204.35H533.18M529.48 200.65V208.05M525.78 200.65L533.18 208.05M525.78 208.05L533.18 200.65M534.23 203.02H541.63M537.93 199.32V206.72M534.23 199.32L541.63 206.72M534.23 206.72L541.63 199.32M542.67 201.69H550.07M546.37 197.99V205.39M542.67 197.99L550.07 205.39M542.67 205.39L550.07 197.99M551.12 200.36H558.52M554.82 196.66V204.06M551.12 196.66L558.52 204.06M551.12 204.06L558.52 196.66M559.56 199.03H566.96M563.26 195.33V202.73M559.56 195.33L566.96 202.73M559.56 202.73L566.96 195.33M568.00 197.70H575.40M571.70 194.00V201.40M568.00 194.00L575.40 201.40M568.00 201.40L575.40 194.00M576.45 196.37H583.85M580.15 192.67V200.07M576.45 192.67L583.85 200.07M576.45 200.07L583.85 192.67M584.89 195.04H592.29M588.59 191.34V198.74M584.89 191.34L592.29 198.74M584.89 198.74L592.29 191.34M593.34 193.71H600.74M597.04 190.01V197.41M593.34 190.01L600.74 197.41M593.34 197.41L600.74 190.01M601.78 192.38H609.18M605.48 188.68V196.08M601.78 188.68L609.18 196.08M601.78 196.08L609.18 188.68M610.22 191.05H617.62M613.92 187.35V194.75M610.22 187.35L617.62 194.75M610.22 194.75L617.62 187.35M618.67 189.72H626.07M622.37 186.02V193.42M618.67 186.02L626.07 193.42M618.67 193.42L626.07 186.02M627.11 188.39H634.51M630.81 184.69V192.09M627.11 184.69L634.51 192.09M627.11 192.09L634.51 184.69M635.56 187.06H642.96M639.26 183.36V190.76M635.56 183.36L642.96 190.76M635.56 190.76L642.96 183.36M644.00 185.73H651.40M647.70 182.03V189.43M644.00 182.03L651.40 189.43M644.00 189.43L651.40 182.03"/>
<path stroke="#1E6EFF" stroke-width="0.70" d="M149.50 251.50V261.50M145.60 251.50H153.40M145.60 261.50H153.40M157.94 250.04V259.96M154.04 250.04H161.84M154.04 259.96H161.84M166.39 248.58V258.42M162.49 248.58H170.29M162.49 258.42H170.29M174.83 247.12V256.88M170.93 247.12H178.73M170.93 256.88H178.73M183.28 245.66V255.34M179.38 245.66H187.18M179.38 255.34H187.18M191.72 244.20V253.80M187.82 244.20H195.62M187.82 253.80H195.62M200.16 242.74V252.26M196.26 242.74H204.06M196.26 252.26H204.06M208.61 241.28V250.72M204.71 241.28H212.51M204.71 250.72H212.51M217.05 239.82V249.18M213.15 239.82H220.95M213.15 249.18H220.95M225.50 238.36V247.64M221.60 238.36H229.40M221.60 247.64H229.40M233.94 236.90V246.10M230.04 236.90H237.84M230.04 246.10H237.84M242.38 235.44V244.56M238.48 235.44H246.28M238.48 244.56H246.28M250.83 233.98V243.02M246.93 233.98H254.73M246.93 243.02H254.73M259.27 232.52V241.48M255.37 232.52H263.17M255.37 241.48H263.17M267.72 231.06V239.94M263.82 231.06H271.62M263.82 239.94H271.62M276.16 229.60V238.40M272.26 229.60H280.06M272.26 238.40H280.06M284.61 228.14V236.86M280.71 228.14H288.51M280.71 236.86H288.51M293.05 226.68V235.32M289.15 226.68H296.95M289.15 235.32H296.95M301.49 225.22V233.78M297.59 225.22H305.39M297.59 233.78H305.39M309.94 223.76V232.24M306.04 223.76H313.84M306.04 232.24H313.84M318.38 222.30V230.70M314.48 222.30H322.28M314.48 230.70H322.28M326.83 220.81V229.19M322.93 220.81H330.73M322.93 229.19H330.73M335.27 219.31V227.69M331.37 219.31H339.17M331.37 227.69H339.17M343.71 217.82V226.18M339.81 217.82H347.61M339.81 226.18H347.61M352.16 216.32V224.68M348.26 216.32H356.06M348.26 224.68H356.06M360.60 214.83V223.17M356.70 214.83H364.50M356.70 223.17H364.50M369.05 213.33V221.67M365.15 213.33H372.95M365.15 221.67H372.95M377.49 211.84V220.16M373.59 211.84H381.39M373.59 220.16H381.39M385.93 210.34V218.66M382.03 210.34H389.83M382.03 218.66H389.83M394.38 208.85V217.15M390.48 208.85H398.28M390.48 217.15H398.28M402.82 207.35V215.65M398.92 207.35H406.72M398.92 215.65H406.72M411.27 205.86V214.14M407.37 205.86H415.17M407.37 214.14H415.17M419.71 204.36V212.64M415.81 204.36H423.61M415.81 212.64H423.61M428.15 202.87V211.13M424.25 202.87H432.05M424.25 211.13H432.05M436.60 201.37V209.63M432.70 201.37H440.50M432.70 209.63H440.50M445.04 199.88V208.12M441.14 199.88H448.94M441.14 208.12H448.94M453.49 198.38V206.62M449.59 198.38H457.39M449.59 206.62H457.39M461.93 196.89V205.11M458.03 196.89H465.83M458.03 205.11H465.83M470.37 195.39V203.61M466.47 195.39H474.27M466.47 203.61H474.27M478.82 193.90V202.10M474.92 193.90H482.72M474.92 202.10H482.72M487.26 192.40V200.60M483.36 192.40H491.16M483.36 200.60H491.16M495.71 190.91V199.09M491.81 190.91H499.61M491.81 199.09H499.61M504.15 189.41V197.59M500.25 189.41H508.05M500.25 197.59H508.05M512.59 187.92V196.08M508.69 187.92H516.49M508.69 196.08H516.49M521.04 186.42V194.58M517.14 186.42H524.94M517.14 194.58H524.94M529.48 184.93V193.07M525.58 184.93H533.38M525.58 193.07H533.38M537.93 183.43V191.57M534.03 183.43H541.83M534.03 191.57H541.83M546.37 181.94V190.06M542.47 181.94H550.27M542.47 190.06H550.27M554.82 180.44V188.56M550.92 180.44H558.72M550.92 188.56H558.72M563.26 178.95V187.05M559.36 178.95H567.16M559.36 187.05H567.16M571.70 177.45V185.55M567.80 177.45H575.60M567.80 185.55H575.60M580.15 175.96V184.04M576.25 175.96H584.05M576.25 184.04H584.05M588.59 174.46V182.54M584.69 174.46H592.49M584.69 182.54H592.49M597.04 172.97V181.03M593.14 172.97H600.94M593.14 181.03H600.94M605.48 171.47V179.53M601.58 171.47H609.38M601.58 179.53H609.38M622.37 168.48V176.52M618.47 168.48H626.27M618.47 176.52H626.27M630.81 166.99V175.01M626.91 166.99H634.71M626.91 175.01H634.71M639.26 165.49V173.51M635.36 165.49H643.16M635.36 173.51H643.16M647.70 164.00V172.00M643.80 164.00H651.60M643.80 172.00H651.60"/>
<path stroke="#1E6EFF" stroke-width="0.82" d="M145.80 256.50H153.20M149.50 252.80V260.20M145.80 252.80L153.20 260.20M145.80 260.20L153.20 252.80M154.24 255.00H161.64M157.94 251.30V258.70M154.24 251.30L161.64 258.70M154.24 258.70L161.64 251.30M162.69 253.50H170.09M166.39 249.80V257.20M162.69 249.80L170.09 257.20M162.69 257.20L170.09 249.80M171.13 252.00H178.53M174.83 248.30V255.70M171.13 248.30L178.53 255.70M171.13 255.70L178.53 248.30M179.58 250.50H186.98M183.28 246.80V254.20M179.58 246.80L186.98 254.20M179.58 254.20L186.98 246.80M188.02 249.00H195.42M191.72 245.30V252.70M188.02 245.30L195.42 252.70M188.02 252.70L195.42 245.30M196.46 247.50H203.86M200.16 243.80V251.20M196.46 243.80L203.86 251.20M196.46 251.20L203.86 243.80M204.91 246.00H212.31M208.61 242.30V249.70M204.91 242.30L212.31 249.70M204.91 249.70L212.31 242.30M213.35 244.50H220.75M217.05 240.80V248.20M213.35 240.80L220.75 248.20M213.35 248.20L220.75 240.80M221.80 243.00H229.20M225.50 239.30V246.70M221.80 239.30L229.20 246.70M221.80 246.70L229.20 239.30M230.24 241.50H237.64M233.94 237.80V245.20M230.24 237.80L237.64 245.20M230.24 245.20L237.64 237.80M238.68 240.00H246.08M242.38 236.30V243.70M238.68 236.30L246.08 243.70M238.68 243.70L246.08 236.30M247.13 238.50H254.53M250.83 234.80V242.20M247.13 234.80L254.53 242.20M247.13 242.20L254.53 234.80M255.57 237.00H262.97M259.27 233.30V240.70M255.57 233.30L262.97 240.70M255.57 240.70L262.97 233.30M264.02 235.50H271.42M267.72 231.80V239.20M264.02 231.80L271.42 239.20M264.02 239.20L271.42 231.80M272.46 234.00H279.86M276.16 230.30V237.70M272.46 230.30L279.86 237.70M272.46 237.70L279.86 230.30M280.91 232.50H288.31M284.61 228.80V236.20M280.91 228.80L288.31 236.20M280.91 236.20L288.31 228.80M289.35 231.00H296.75M293.05 227.30V234.70M289.35 227.30L296.75 234.70M289.35 234.70L296.75 227.30M297.79 229.50H305.19M301.49 225.80V233.20M297.79 225.80L305.19 233.20M297.79 233.20L305.19 225.80M306.24 228.00H313.64M309.94 224.30V231.70M306.24 224.30L313.64 231.70M306.24 231.70L313.64 224.30M314.68 226.50H322.08M318.38 222.80V230.20M314.68 222.80L322.08 230.20M314.68 230.20L322.08 222.80M323.13 225.00H330.53M326.83 221.30V228.70M323.13 221.30L330.53 228.70M323.13 228.70L330.53 221.30M331.57 223.50H338.97M335.27 219.80V227.20M331.57 219.80L338.97 227.20M331.57 227.20L338.97 219.80M340.01 222.00H347.41M343.71 218.30V225.70M340.01 218.30L347.41 225.70M340.01 225.70L347.41 218.30M348.46 220.50H355.86M352.16 216.80V224.20M348.46 216.80L355.86 224.20M348.46 224.20L355.86 216.80M356.90 219.00H364.30M360.60 215.30V222.70M356.90 215.30L364.30 222.70M356.90 222.70L364.30 215.30M365.35 217.50H372.75M369.05 213.80V221.20M365.35 213.80L372.75 221.20M365.35 221.20L372.75 213.80M373.79 216.00H381.19M377.49 212.30V219.70M373.79 212.30L381.19 219.70M373.79 219.70L381.19 212.30M382.23 214.50H389.63M385.93 210.80V218.20M382.23 210.80L389.63 218.20M382.23 218.20L389.63 210.80M390.68 213.00H398.08M394.38 209.30V216.70M390.68 209.30L398.08 216.70M390.68 216.70L398.08 209.30M399.12 211.50H406.52M402.82 207.80V215.20M399.12 207.80L406.52 215.20M399.12 215.20L406.52 207.80M407.57 210.00H414.97M411.27 206.30V213.70M407.57 206.30L414.97 213.70M407.57 213.70L414.97 206.30M416.01 208.50H423.41M419.71 204.80V212.20M416.01 204.80L423.41 212.20M416.01 212.20L423.41 204.80M424.45 207.00H431.85M428.15 203.30V210.70M424.45 203.30L431.85 210.70M424.45 210.70L431.85 203.30M432.90 205.50H440.30M436.60 201.80V209.20M432.90 201.80L440.30 209.20M432.90 209.20L440.30 201.80M441.34 204.00H448.74M445.04 200.30V207.70M441.34 200.30L448.74 207.70M441.34 207.70L448.74 200.30M449.79 202.50H457.19M453.49 198.80V206.20M449.79 198.80L457.19 206.20M449.79 206.20L457.19 198.80M458.23 201.00H465.63M461.93 197.30V204.70M458.23 197.30L465.63 204.70M458.23 204.70L465.63 197.30M466.67 199.50H474.07M470.37 195.80V203.20M466.67 195.80L474.07 203.20M466.67 203.20L474.07 195.80M475.12 198.00H482.52M478.82 194.30V201.70M475.12 194.30L482.52 201.70M475.12 201.70L482.52 194.30M483.56 196.50H490.96M487.26 192.80V200.20M483.56 192.80L490.96 200.20M483.56 200.20L490.96 192.80M492.01 195.00H499.41M495.71 191.30V198.70M492.01 191.30L499.41 198.70M492.01 198.70L499.41 191.30M500.45 193.50H507.85M504.15 189.80V197.20M500.45 189.80L507.85 197.20M500.45 197.20L507.85 189.80M508.89 192.00H516.29M512.59 188.30V195.70M508.89 188.30L516.29 195.70M508.89 195.70L516.29 188.30M517.34 190.50H524.74M521.04 186.80V194.20M517.34 186.80L524.74 194.20M517.34 194.20L524.74 186.80M525.78 189.00H533.18M529.48 185.30V192.70M525.78 185.30L533.18 192.70M525.78 192.70L533.18 185.30M534.23 187.50H541.63M537.93 183.80V191.20M534.23 183.80L541.63 191.20M534.23 191.20L541.63 183.80M542.67 186.00H550.07M546.37 182.30V189.70M542.67 182.30L550.07 189.70M542.67 189.70L550.07 182.30M551.12 184.50H558.52M554.82 180.80V188.20M551.12 180.80L558.52 188.20M551.12 188.20L558.52 180.80M559.56 183.00H566.96M563.26 179.30V186.70M559.56 179.30L566.96 186.70M559.56 186.70L566.96 179.30M568.00 181.50H575.40M571.70 177.80V185.20M568.00 177.80L575.40 185.20M568.00 185.20L575.40 177.80M576.45 180.00H583.85M580.15 176.30V183.70M576.45 176.30L583.85 183.70M576.45 183.70L583.85 176.30M584.89 178.50H592.29M588.59 174.80V182.20M584.89 174.80L592.29 182.20M584.89 182.20L592.29 174.80M593.34 177.00H600.74M597.04 173.30V180.70M593.34 173.30L600.74 180.70M593.34 180.70L600.74 173.30M601.78 175.50H609.18M605.48 171.80V179.20M601.78 171.80L609.18 179.20M601.78 179.20L609.18 171.80M618.67 172.50H626.07M622.37 168.80V176.20M618.67 168.80L626.07 176.20M618.67 176.20L626.07 168.80M627.11 171.00H634.51M630.81 167.30V174.70M627.11 167.30L634.51 174.70M627.11 174.70L634.51 167.30M635.56 169.50H642.96M639.26 165.80V173.20M635.56 165.80L642.96 173.20M635.56 173.20L642.96 165.80M644.00 168.00H651.40M647.70 164.30V171.70M644.00 164.30L651.40 171.70M644.00 171.70L651.40 164.30"/>
<path stroke="#00EEFF" stroke-width="0.70" d="M149.50 243.50V252.50M145.60 243.50H153.40M145.60 252.50H153.40M157.94 242.14V251.09M154.04 242.14H161.84M154.04 251.09H161.84M166.39 240.78V249.68M162.49 240.78H170.29M162.49 249.68H170.29M174.83 239.42V248.27M170.93 239.42H178.73M170.93 248.27H178.73M183.28 238.06V246.86M179.38 238.06H187.18M179.38 246.86H187.18M191.72 236.70V245.45M187.82 236.70H195.62M187.82 245.45H195.62M200.16 235.34V244.04M196.26 235.34H204.06M196.26 244.04H204.06M208.61 233.98V242.62M204.71 233.98H212.51M204.71 242.62H212.51M217.05 232.61V241.21M213.15 232.61H220.95M213.15 241.21H220.95M225.50 231.25V239.80M221.60 231.25H229.40M221.60 239.80H229.40M233.94 229.89V238.39M230.04 229.89H237.84M230.04 238.39H237.84M242.38 228.53V236.98M238.48 228.53H246.28M238.48 236.98H246.28M250.83 227.17V235.57M246.93 227.17H254.73M246.93 235.57H254.73M259.27 225.81V234.16M255.37 225.81H263.17M255.37 234.16H263.17M267.72 224.45V232.75M263.82 224.45H271.62M263.82 232.75H271.62M276.16 223.09V231.34M272.26 223.09H280.06M272.26 231.34H280.06M284.61 221.73V229.93M280.71 221.73H288.51M280.71 229.93H288.51M293.05 220.37V228.52M289.15 220.37H296.95M289.15 228.52H296.95M301.49 219.01V227.11M297.59 219.01H305.39M297.59 227.11H305.39M309.94 217.65V225.70M306.04 217.65H313.84M306.04 225.70H313.84M318.38 216.29V224.29M314.48 216.29H322.28M314.48 224.29H322.28M326.83 214.90V222.90M322.93 214.90H330.73M322.93 222.90H330.73M335.27 213.51V221.51M331.37 213.51H339.17M331.37 221.51H339.17M343.71 212.13V220.13M339.81 212.13H347.61M339.81 220.13H347.61M352.16 210.74V218.74M348.26 210.74H356.06M348.26 218.74H356.06M360.60 209.36V217.36M356.70 209.36H364.50M356.70 217.36H364.50M369.05 207.97V215.97M365.15 207.97H372.95M365.15 215.97H372.95M377.49 206.59V214.59M373.59 206.59H381.39M373.59 214.59H381.39M385.93 205.20V213.20M382.03 205.20H389.83M382.03 213.20H389.83M394.38 203.81V211.81M390.48 203.81H398.28M390.48 211.81H398.28M402.82 202.43V210.43M398.92 202.43H406.72M398.92 210.43H406.72M411.27 201.04V209.04M407.37 201.04H415.17M407.37 209.04H415.17M419.71 199.66V207.66M415.81 199.66H423.61M415.81 207.66H423.61M428.15 198.27V206.27M424.25 198.27H432.05M424.25 206.27H432.05M436.60 196.88V204.88M432.70 196.88H440.50M432.70 204.88H440.50M445.04 195.48V203.48M441.14 195.48H448.94M441.14 203.48H448.94M453.49 194.06V202.06M449.59 194.06H457.39M449.59 202.06H457.39M461.93 192.61V200.61M458.03 192.61H465.83M458.03 200.61H465.83M470.37 191.13V199.13M466.47 191.13H474.27M466.47 199.13H474.27M478.82 189.60V197.60M474.92 189.60H482.72M474.92 197.60H482.72M487.26 188.04V196.04M483.36 188.04H491.16M483.36 196.04H491.16M495.71 186.47V194.47M491.81 186.47H499.61M491.81 194.47H499.61M504.15 184.89V192.89M500.25 184.89H508.05M500.25 192.89H508.05M512.59 183.31V191.31M508.69 183.31H516.49M508.69 191.31H516.49M521.04 181.73V189.73M517.14 181.73H524.94M517.14 189.73H524.94M529.48 180.15V188.15M525.58 180.15H533.38M525.58 188.15H533.38M537.93 178.55V186.55M534.03 178.55H541.83M534.03 186.55H541.83M546.37 176.90V184.90M542.47 176.90H550.27M542.47 184.90H550.27M554.82 175.19V183.19M550.92 175.19H558.72M550.92 183.19H558.72M563.26 173.43V181.43M559.36 173.43H567.16M559.36 181.43H567.16M571.70 171.64V179.64M567.80 171.64H575.60M567.80 179.64H575.60M580.15 169.86V177.86M576.25 169.86H584.05M576.25 177.86H584.05M588.59 168.07V176.07M584.69 168.07H592.49M584.69 176.07H592.49M597.04 166.29V174.29M593.14 166.29H600.94M593.14 174.29H600.94M605.48 164.52V172.52M601.58 164.52H609.38M601.58 172.52H609.38M613.92 162.77V170.77M610.02 162.77H617.82M610.02 170.77H617.82M622.37 161.02V169.02M618.47 161.02H626.27M618.47 169.02H626.27M630.81 159.28V167.28M626.91 159.28H634.71M626.91 167.28H634.71M639.26 157.54V165.54M635.36 157.54H643.16M635.36 165.54H643.16M647.70 155.80V163.80M643.80 155.80H651.60M643.80 163.80H651.60"/>
<path stroke="#00EEFF" stroke-width="0.82" d="M145.80 248.00H153.20M149.50 244.30V251.70M145.80 244.30L153.20 251.70M145.80 251.70L153.20 244.30M154.24 246.61H161.64M157.94 242.91V250.31M154.24 242.91L161.64 250.31M154.24 250.31L161.64 242.91M162.69 245.23H170.09M166.39 241.53V248.93M162.69 241.53L170.09 248.93M162.69 248.93L170.09 241.53M171.13 243.84H178.53M174.83 240.14V247.54M171.13 240.14L178.53 247.54M171.13 247.54L178.53 240.14M179.58 242.46H186.98M183.28 238.76V246.16M179.58 238.76L186.98 246.16M179.58 246.16L186.98 238.76M188.02 241.07H195.42M191.72 237.37V244.77M188.02 237.37L195.42 244.77M188.02 244.77L195.42 237.37M196.46 239.69H203.86M200.16 235.99V243.39M196.46 235.99L203.86 243.39M196.46 243.39L203.86 235.99M204.91 238.30H212.31M208.61 234.60V242.00M204.91 234.60L212.31 242.00M204.91 242.00L212.31 234.60M213.35 236.91H220.75M217.05 233.21V240.61M213.35 233.21L220.75 240.61M213.35 240.61L220.75 233.21M221.80 235.53H229.20M225.50 231.83V239.23M221.80 231.83L229.20 239.23M221.80 239.23L229.20 231.83M230.24 234.14H237.64M233.94 230.44V237.84M230.24 230.44L237.64 237.84M230.24 237.84L237.64 230.44M238.68 232.76H246.08M242.38 229.06V236.46M238.68 229.06L246.08 236.46M238.68 236.46L246.08 229.06M247.13 231.37H254.53M250.83 227.67V235.07M247.13 227.67L254.53 235.07M247.13 235.07L254.53 227.67M255.57 229.99H262.97M259.27 226.29V233.69M255.57 226.29L262.97 233.69M255.57 233.69L262.97 226.29M264.02 228.60H271.42M267.72 224.90V232.30M264.02 224.90L271.42 232.30M264.02 232.30L271.42 224.90M272.46 227.21H279.86M276.16 223.51V230.91M272.46 223.51L279.86 230.91M272.46 230.91L279.86 223.51M280.91 225.83H288.31M284.61 222.13V229.53M280.91 222.13L288.31 229.53M280.91 229.53L288.31 222.13M289.35 224.44H296.75M293.05 220.74V228.14M289.35 220.74L296.75 228.14M289.35 228.14L296.75 220.74M297.79 223.06H305.19M301.49 219.36V226.76M297.79 219.36L305.19 226.76M297.79 226.76L305.19 219.36M306.24 221.67H313.64M309.94 217.97V225.37M306.24 217.97L313.64 225.37M306.24 225.37L313.64 217.97M314.68 220.29H322.08M318.38 216.59V223.99M314.68 216.59L322.08 223.99M314.68 223.99L322.08 216.59M323.13 218.90H330.53M326.83 215.20V222.60M323.13 215.20L330.53 222.60M323.13 222.60L330.53 215.20M331.57 217.51H338.97M335.27 213.81V221.21M331.57 213.81L338.97 221.21M331.57 221.21L338.97 213.81M340.01 216.13H347.41M343.71 212.43V219.83M340.01 212.43L347.41 219.83M340.01 219.83L347.41 212.43M348.46 214.74H355.86M352.16 211.04V218.44M348.46 211.04L355.86 218.44M348.46 218.44L355.86 211.04M356.90 213.36H364.30M360.60 209.66V217.06M356.90 209.66L364.30 217.06M356.90 217.06L364.30 209.66M365.35 211.97H372.75M369.05 208.27V215.67M365.35 208.27L372.75 215.67M365.35 215.67L372.75 208.27M373.79 210.59H381.19M377.49 206.89V214.29M373.79 206.89L381.19 214.29M373.79 214.29L381.19 206.89M382.23 209.20H389.63M385.93 205.50V212.90M382.23 205.50L389.63 212.90M382.23 212.90L389.63 205.50M390.68 207.81H398.08M394.38 204.11V211.51M390.68 204.11L398.08 211.51M390.68 211.51L398.08 204.11M399.12 206.43H406.52M402.82 202.73V210.13M399.12 202.73L406.52 210.13M399.12 210.13L406.52 202.73M407.57 205.04H414.97M411.27 201.34V208.74M407.57 201.34L414.97 208.74M407.57 208.74L414.97 201.34M416.01 203.66H423.41M419.71 199.96V207.36M416.01 199.96L423.41 207.36M416.01 207.36L423.41 199.96M424.45 202.27H431.85M428.15 198.57V205.97M424.45 198.57L431.85 205.97M424.45 205.97L431.85 198.57M432.90 200.88H440.30M436.60 197.18V204.58M432.90 197.18L440.30 204.58M432.90 204.58L440.30 197.18M441.34 199.48H448.74M445.04 195.78V203.18M441.34 195.78L448.74 203.18M441.34 203.18L448.74 195.78M449.79 198.06H457.19M453.49 194.36V201.76M449.79 194.36L457.19 201.76M449.79 201.76L457.19 194.36M458.23 196.61H465.63M461.93 192.91V200.31M458.23 192.91L465.63 200.31M458.23 200.31L465.63 192.91M466.67 195.13H474.07M470.37 191.43V198.83M466.67 191.43L474.07 198.83M466.67 198.83L474.07 191.43M475.12 193.60H482.52M478.82 189.90V197.30M475.12 189.90L482.52 197.30M475.12 197.30L482.52 189.90M483.56 192.04H490.96M487.26 188.34V195.74M483.56 188.34L490.96 195.74M483.56 195.74L490.96 188.34M492.01 190.47H499.41M495.71 186.77V194.17M492.01 186.77L499.41 194.17M492.01 194.17L499.41 186.77M500.45 188.89H507.85M504.15 185.19V192.59M500.45 185.19L507.85 192.59M500.45 192.59L507.85 185.19M508.89 187.31H516.29M512.59 183.61V191.01M508.89 183.61L516.29 191.01M508.89 191.01L516.29 183.61M517.34 185.73H524.74M521.04 182.03V189.43M517.34 182.03L524.74 189.43M517.34 189.43L524.74 182.03M525.78 184.15H533.18M529.48 180.45V187.85M525.78 180.45L533.18 187.85M525.78 187.85L533.18 180.45M534.23 182.55H541.63M537.93 178.85V186.25M534.23 178.85L541.63 186.25M534.23 186.25L541.63 178.85M542.67 180.90H550.07M546.37 177.20V184.60M542.67 177.20L550.07 184.60M542.67 184.60L550.07 177.20M551.12 179.19H558.52M554.82 175.49V182.89M551.12 175.49L558.52 182.89M551.12 182.89L558.52 175.49M559.56 177.43H566.96M563.26 173.73V181.13M559.56 173.73L566.96 181.13M559.56 181.13L566.96 173.73M568.00 175.64H575.40M571.70 171.94V179.34M568.00 171.94L575.40 179.34M568.00 179.34L575.40 171.94M576.45 173.86H583.85M580.15 170.16V177.56M576.45 170.16L583.85 177.56M576.45 177.56L583.85 170.16M584.89 172.07H592.29M588.59 168.37V175.77M584.89 168.37L592.29 175.77M584.89 175.77L592.29 168.37M593.34 170.29H600.74M597.04 166.59V173.99M593.34 166.59L600.74 173.99M593.34 173.99L600.74 166.59M601.78 168.52H609.18M605.48 164.82V172.22M601.78 164.82L609.18 172.22M601.78 172.22L609.18 164.82M610.22 166.77H617.62M613.92 163.07V170.47M610.22 163.07L617.62 170.47M610.22 170.47L617.62 163.07M618.67 165.02H626.07M622.37 161.32V168.72M618.67 161.32L626.07 168.72M618.67 168.72L626.07 161.32M627.11 163.28H634.51M630.81 159.58V166.98M627.11 159.58L634.51 166.98M627.11 166.98L634.51 159.58M635.56 161.54H642.96M639.26 157.84V165.24M635.56 157.84L642.96 165.24M635.56 165.24L642.96 157.84M644.00 159.80H651.40M647.70 156.10V163.50M644.00 156.10L651.40 163.50M644.00 163.50L651.40 156.10"/>
<path stroke="#00FF50" stroke-width="0.70" d="M149.50 240.40V248.20M145.60 240.40H153.40M145.60 248.20H153.40M157.94 238.98V246.78M154.04 238.98H161.84M154.04 246.78H161.84M166.39 237.56V245.36M162.49 237.56H170.29M162.49 245.36H170.29M174.83 236.14V243.94M170.93 236.14H178.73M170.93 243.94H178.73M183.28 234.72V242.52M179.38 234.72H187.18M179.38 242.52H187.18M191.72 233.30V241.10M187.82 233.30H195.62M187.82 241.10H195.62M200.16 231.88V239.68M196.26 231.88H204.06M196.26 239.68H204.06M208.61 230.46V238.26M204.71 230.46H212.51M204.71 238.26H212.51M217.05 229.04V236.84M213.15 229.04H220.95M213.15 236.84H220.95M225.50 227.62V235.42M221.60 227.62H229.40M221.60 235.42H229.40M233.94 226.20V234.00M230.04 226.20H237.84M230.04 234.00H237.84M242.38 224.78V232.58M238.48 224.78H246.28M238.48 232.58H246.28M250.83 223.36V231.16M246.93 223.36H254.73M246.93 231.16H254.73M259.27 221.94V229.74M255.37 221.94H263.17M255.37 229.74H263.17M267.72 220.52V228.32M263.82 220.52H271.62M263.82 228.32H271.62M276.16 219.10V226.90M272.26 219.10H280.06M272.26 226.90H280.06M284.61 217.68V225.48M280.71 217.68H288.51M280.71 225.48H288.51M293.05 216.26V224.06M289.15 216.26H296.95M289.15 224.06H296.95M301.49 214.84V222.64M297.59 214.84H305.39M297.59 222.64H305.39M309.94 213.42V221.22M306.04 213.42H313.84M306.04 221.22H313.84M318.38 212.00V219.80M314.48 212.00H322.28M314.48 219.80H322.28M326.83 210.58V218.38M322.93 210.58H330.73M322.93 218.38H330.73M335.27 209.16V216.96M331.37 209.16H339.17M331.37 216.96H339.17M343.71 207.74V215.54M339.81 207.74H347.61M339.81 215.54H347.61M352.16 206.32V214.12M348.26 206.32H356.06M348.26 214.12H356.06M360.60 204.90V212.70M356.70 204.90H364.50M356.70 212.70H364.50M369.05 203.48V211.28M365.15 203.48H372.95M365.15 211.28H372.95M377.49 202.06V209.86M373.59 202.06H381.39M373.59 209.86H381.39M385.93 200.64V208.44M382.03 200.64H389.83M382.03 208.44H389.83M394.38 199.22V207.02M390.48 199.22H398.28M390.48 207.02H398.28M402.82 197.80V205.60M398.92 197.80H406.72M398.92 205.60H406.72M411.27 196.38V204.18M407.37 196.38H415.17M407.37 204.18H415.17M419.71 194.96V202.76M415.81 194.96H423.61M415.81 202.76H423.61M428.15 193.54V201.34M424.25 193.54H432.05M424.25 201.34H432.05M436.60 192.12V199.92M432.70 192.12H440.50M432.70 199.92H440.50M445.04 190.70V198.50M441.14 190.70H448.94M441.14 198.50H448.94M453.49 189.28V197.08M449.59 189.28H457.39M449.59 197.08H457.39M461.93 187.86V195.66M458.03 187.86H465.83M458.03 195.66H465.83M470.37 186.44V194.24M466.47 186.44H474.27M466.47 194.24H474.27M478.82 185.02V192.82M474.92 185.02H482.72M474.92 192.82H482.72M487.26 183.60V191.40M483.36 183.60H491.16M483.36 191.40H491.16M495.71 182.18V189.98M491.81 182.18H499.61M491.81 189.98H499.61M504.15 180.76V188.56M500.25 180.76H508.05M500.25 188.56H508.05M512.59 179.34V187.14M508.69 179.34H516.49M508.69 187.14H516.49M521.04 177.92V185.72M517.14 177.92H524.94M517.14 185.72H524.94M529.48 176.50V184.30M525.58 176.50H533.38M525.58 184.30H533.38M537.93 175.08V182.88M534.03 175.08H541.83M534.03 182.88H541.83M546.37 173.66V181.46M542.47 173.66H550.27M542.47 181.46H550.27M554.82 172.24V180.04M550.92 172.24H558.72M550.92 180.04H558.72M563.26 170.82V178.62M559.36 170.82H567.16M559.36 178.62H567.16M571.70 169.40V177.20M567.80 169.40H575.60M567.80 177.20H575.60M580.15 167.98V175.78M576.25 167.98H584.05M576.25 175.78H584.05M588.59 166.56V174.36M584.69 166.56H592.49M584.69 174.36H592.49M597.04 165.14V172.94M593.14 165.14H600.94M593.14 172.94H600.94M605.48 163.72V171.52M601.58 163.72H609.38M601.58 171.52H609.38M613.92 162.30V170.10M610.02 162.30H617.82M610.02 170.10H617.82M622.37 160.88V168.68M618.47 160.88H626.27M618.47 168.68H626.27M630.81 159.46V167.26M626.91 159.46H634.71M626.91 167.26H634.71M639.26 158.04V165.84M635.36 158.04H643.16M635.36 165.84H643.16M647.70 156.62V164.42M643.80 156.62H651.60M643.80 164.42H651.60"/>
<path stroke="#00FF50" stroke-width="0.82" d="M145.80 244.30H153.20M149.50 240.60V248.00M145.80 240.60L153.20 248.00M145.80 248.00L153.20 240.60M154.24 242.88H161.64M157.94 239.18V246.58M154.24 239.18L161.64 246.58M154.24 246.58L161.64 239.18M162.69 241.46H170.09M166.39 237.76V245.16M162.69 237.76L170.09 245.16M162.69 245.16L170.09 237.76M171.13 240.04H178.53M174.83 236.34V243.74M171.13 236.34L178.53 243.74M171.13 243.74L178.53 236.34M179.58 238.62H186.98M183.28 234.92V242.32M179.58 234.92L186.98 242.32M179.58 242.32L186.98 234.92M188.02 237.20H195.42M191.72 233.50V240.90M188.02 233.50L195.42 240.90M188.02 240.90L195.42 233.50M196.46 235.78H203.86M200.16 232.08V239.48M196.46 232.08L203.86 239.48M196.46 239.48L203.86 232.08M204.91 234.36H212.31M208.61 230.66V238.06M204.91 230.66L212.31 238.06M204.91 238.06L212.31 230.66M213.35 232.94H220.75M217.05 229.24V236.64M213.35 229.24L220.75 236.64M213.35 236.64L220.75 229.24M221.80 231.52H229.20M225.50 227.82V235.22M221.80 227.82L229.20 235.22M221.80 235.22L229.20 227.82M230.24 230.10H237.64M233.94 226.40V233.80M230.24 226.40L237.64 233.80M230.24 233.80L237.64 226.40M238.68 228.68H246.08M242.38 224.98V232.38M238.68 224.98L246.08 232.38M238.68 232.38L246.08 224.98M247.13 227.26H254.53M250.83 223.56V230.96M247.13 223.56L254.53 230.96M247.13 230.96L254.53 223.56M255.57 225.84H262.97M259.27 222.14V229.54M255.57 222.14L262.97 229.54M255.57 229.54L262.97 222.14M264.02 224.42H271.42M267.72 220.72V228.12M264.02 220.72L271.42 228.12M264.02 228.12L271.42 220.72M272.46 223.00H279.86M276.16 219.30V226.70M272.46 219.30L279.86 226.70M272.46 226.70L279.86 219.30M280.91 221.58H288.31M284.61 217.88V225.28M280.91 217.88L288.31 225.28M280.91 225.28L288.31 217.88M289.35 220.16H296.75M293.05 216.46V223.86M289.35 216.46L296.75 223.86M289.35 223.86L296.75 216.46M297.79 218.74H305.19M301.49 215.04V222.44M297.79 215.04L305.19 222.44M297.79 222.44L305.19 215.04M306.24 217.32H313.64M309.94 213.62V221.02M306.24 213.62L313.64 221.02M306.24 221.02L313.64 213.62M314.68 215.90H322.08M318.38 212.20V219.60M314.68 212.20L322.08 219.60M314.68 219.60L322.08 212.20M323.13 214.48H330.53M326.83 210.78V218.18M323.13 210.78L330.53 218.18M323.13 218.18L330.53 210.78M331.57 213.06H338.97M335.27 209.36V216.76M331.57 209.36L338.97 216.76M331.57 216.76L338.97 209.36M340.01 211.64H347.41M343.71 207.94V215.34M340.01 207.94L347.41 215.34M340.01 215.34L347.41 207.94M348.46 210.22H355.86M352.16 206.52V213.92M348.46 206.52L355.86 213.92M348.46 213.92L355.86 206.52M356.90 208.80H364.30M360.60 205.10V212.50M356.90 205.10L364.30 212.50M356.90 212.50L364.30 205.10M365.35 207.38H372.75M369.05 203.68V211.08M365.35 203.68L372.75 211.08M365.35 211.08L372.75 203.68M373.79 205.96H381.19M377.49 202.26V209.66M373.79 202.26L381.19 209.66M373.79 209.66L381.19 202.26M382.23 204.54H389.63M385.93 200.84V208.24M382.23 200.84L389.63 208.24M382.23 208.24L389.63 200.84M390.68 203.12H398.08M394.38 199.42V206.82M390.68 199.42L398.08 206.82M390.68 206.82L398.08 199.42M399.12 201.70H406.52M402.82 198.00V205.40M399.12 198.00L406.52 205.40M399.12 205.40L406.52 198.00M407.57 200.28H414.97M411.27 196.58V203.98M407.57 196.58L414.97 203.98M407.57 203.98L414.97 196.58M416.01 198.86H423.41M419.71 195.16V202.56M416.01 195.16L423.41 202.56M416.01 202.56L423.41 195.16M424.45 197.44H431.85M428.15 193.74V201.14M424.45 193.74L431.85 201.14M424.45 201.14L431.85 193.74M432.90 196.02H440.30M436.60 192.32V199.72M432.90 192.32L440.30 199.72M432.90 199.72L440.30 192.32M441.34 194.60H448.74M445.04 190.90V198.30M441.34 190.90L448.74 198.30M441.34 198.30L448.74 190.90M449.79 193.18H457.19M453.49 189.48V196.88M449.79 189.48L457.19 196.88M449.79 196.88L457.19 189.48M458.23 191.76H465.63M461.93 188.06V195.46M458.23 188.06L465.63 195.46M458.23 195.46L465.63 188.06M466.67 190.34H474.07M470.37 186.64V194.04M466.67 186.64L474.07 194.04M466.67 194.04L474.07 186.64M475.12 188.92H482.52M478.82 185.22V192.62M475.12 185.22L482.52 192.62M475.12 192.62L482.52 185.22M483.56 187.50H490.96M487.26 183.80V191.20M483.56 183.80L490.96 191.20M483.56 191.20L490.96 183.80M492.01 186.08H499.41M495.71 182.38V189.78M492.01 182.38L499.41 189.78M492.01 189.78L499.41 182.38M500.45 184.66H507.85M504.15 180.96V188.36M500.45 180.96L507.85 188.36M500.45 188.36L507.85 180.96M508.89 183.24H516.29M512.59 179.54V186.94M508.89 179.54L516.29 186.94M508.89 186.94L516.29 179.54M517.34 181.82H524.74M521.04 178.12V185.52M517.34 178.12L524.74 185.52M517.34 185.52L524.74 178.12M525.78 180.40H533.18M529.48 176.70V184.10M525.78 176.70L533.18 184.10M525.78 184.10L533.18 176.70M534.23 178.98H541.63M537.93 175.28V182.68M534.23 175.28L541.63 182.68M534.23 182.68L541.63 175.28M542.67 177.56H550.07M546.37 173.86V181.26M542.67 173.86L550.07 181.26M542.67 181.26L550.07 173.86M551.12 176.14H558.52M554.82 172.44V179.84M551.12 172.44L558.52 179.84M551.12 179.84L558.52 172.44M559.56 174.72H566.96M563.26 171.02V178.42M559.56 171.02L566.96 178.42M559.56 178.42L566.96 171.02M568.00 173.30H575.40M571.70 169.60V177.00M568.00 169.60L575.40 177.00M568.00 177.00L575.40 169.60M576.45 171.88H583.85M580.15 168.18V175.58M576.45 168.18L583.85 175.58M576.45 175.58L583.85 168.18M584.89 170.46H592.29M588.59 166.76V174.16M584.89 166.76L592.29 174.16M584.89 174.16L592.29 166.76M593.34 169.04H600.74M597.04 165.34V172.74M593.34 165.34L600.74 172.74M593.34 172.74L600.74 165.34M601.78 167.62H609.18M605.48 163.92V171.32M601.78 163.92L609.18 171.32M601.78 171.32L609.18 163.92M610.22 166.20H617.62M613.92 162.50V169.90M610.22 162.50L617.62 169.90M610.22 169.90L617.62 162.50M618.67 164.78H626.07M622.37 161.08V168.48M618.67 161.08L626.07 168.48M618.67 168.48L626.07 161.08M627.11 163.36H634.51M630.81 159.66V167.06M627.11 159.66L634.51 167.06M627.11 167.06L634.51 159.66M635.56 161.94H642.96M639.26 158.24V165.64M635.56 158.24L642.96 165.64M635.56 165.64L642.96 158.24M644.00 160.52H651.40M647.70 156.82V164.22M644.00 156.82L651.40 164.22M644.00 164.22L651.40 156.82"/>
<path stroke="#46FF00" stroke-width="0.70" d="M149.50 237.70V243.30M145.60 237.70H153.40M145.60 243.30H153.40M157.94 236.30V241.98M154.04 236.30H161.84M154.04 241.98H161.84M166.39 234.90V240.66M162.49 234.90H170.29M162.49 240.66H170.29M174.83 233.50V239.34M170.93 233.50H178.73M170.93 239.34H178.73M183.28 232.10V238.02M179.38 232.10H187.18M179.38 238.02H187.18M191.72 230.70V236.70M187.82 230.70H195.62M187.82 236.70H195.62M200.16 229.26V235.42M196.26 229.26H204.06M196.26 235.42H204.06M208.61 227.82V234.14M204.71 227.82H212.51M204.71 234.14H212.51M217.05 226.38V232.86M213.15 226.38H220.95M213.15 232.86H220.95M225.50 224.94V231.58M221.60 224.94H229.40M221.60 231.58H229.40M233.94 223.50V230.30M230.04 223.50H237.84M230.04 230.30H237.84M242.38 222.06V229.02M238.48 222.06H246.28M238.48 229.02H246.28M250.83 220.62V227.74M246.93 220.62H254.73M246.93 227.74H254.73M259.27 219.18V226.46M255.37 219.18H263.17M255.37 226.46H263.17M267.72 217.74V225.18M263.82 217.74H271.62M263.82 225.18H271.62M276.16 216.30V223.90M272.26 216.30H280.06M272.26 223.90H280.06M284.61 214.94V222.54M280.71 214.94H288.51M280.71 222.54H288.51M293.05 213.57V221.19M289.15 213.57H296.95M289.15 221.19H296.95M301.49 212.21V219.83M297.59 212.21H305.39M297.59 219.83H305.39M309.94 210.84V218.48M306.04 210.84H313.84M306.04 218.48H313.84M318.38 209.48V217.12M314.48 209.48H322.28M314.48 217.12H322.28M326.83 208.11V215.77M322.93 208.11H330.73M322.93 215.77H330.73M335.27 206.75V214.41M331.37 206.75H339.17M331.37 214.41H339.17M343.71 205.38V213.06M339.81 205.38H347.61M339.81 213.06H347.61M352.16 204.02V211.70M348.26 204.02H356.06M348.26 211.70H356.06M360.60 202.65V210.35M356.70 202.65H364.50M356.70 210.35H364.50M369.05 201.29V208.99M365.15 201.29H372.95M365.15 208.99H372.95M377.49 199.93V207.63M373.59 199.93H381.39M373.59 207.63H381.39M385.93 198.56V206.28M382.03 198.56H389.83M382.03 206.28H389.83M394.38 197.20V204.92M390.48 197.20H398.28M390.48 204.92H398.28M402.82 195.83V203.57M398.92 195.83H406.72M398.92 203.57H406.72M411.27 194.47V202.21M407.37 194.47H415.17M407.37 202.21H415.17M419.71 193.10V200.86M415.81 193.10H423.61M415.81 200.86H423.61M428.15 191.74V199.50M424.25 191.74H432.05M424.25 199.50H432.05M436.60 190.37V198.15M432.70 190.37H440.50M432.70 198.15H440.50M445.04 189.01V196.79M441.14 189.01H448.94M441.14 196.79H448.94M453.49 187.64V195.44M449.59 187.64H457.39M449.59 195.44H457.39M461.93 186.28V194.08M458.03 186.28H465.83M458.03 194.08H465.83M470.37 184.92V192.72M466.47 184.92H474.27M466.47 192.72H474.27M478.82 183.55V191.37M474.92 183.55H482.72M474.92 191.37H482.72M487.26 182.19V190.01M483.36 182.19H491.16M483.36 190.01H491.16M495.71 180.82V188.66M491.81 180.82H499.61M491.81 188.66H499.61M504.15 179.46V187.30M500.25 179.46H508.05M500.25 187.30H508.05M512.59 178.09V185.95M508.69 178.09H516.49M508.69 185.95H516.49M521.04 176.73V184.59M517.14 176.73H524.94M517.14 184.59H524.94M529.48 175.36V183.24M525.58 175.36H533.38M525.58 183.24H533.38M537.93 174.00V181.88M534.03 174.00H541.83M534.03 181.88H541.83M546.37 172.63V180.53M542.47 172.63H550.27M542.47 180.53H550.27M554.82 171.27V179.17M550.92 171.27H558.72M550.92 179.17H558.72M563.26 169.91V177.81M559.36 169.91H567.16M559.36 177.81H567.16M571.70 168.54V176.46M567.80 168.54H575.60M567.80 176.46H575.60M580.15 167.18V175.10M576.25 167.18H584.05M576.25 175.10H584.05M588.59 165.81V173.75M584.69 165.81H592.49M584.69 173.75H592.49M597.04 164.45V172.39M593.14 164.45H600.94M593.14 172.39H600.94M605.48 163.08V171.04M601.58 163.08H609.38M601.58 171.04H609.38M613.92 161.72V169.68M610.02 161.72H617.82M610.02 169.68H617.82M622.37 160.35V168.33M618.47 160.35H626.27M618.47 168.33H626.27M630.81 158.99V166.97M626.91 158.99H634.71M626.91 166.97H634.71M639.26 157.62V165.62M635.36 157.62H643.16M635.36 165.62H643.16M647.70 156.26V164.26M643.80 156.26H651.60M643.80 164.26H651.60"/>
<path stroke="#46FF00" stroke-width="0.82" d="M145.80 240.50H153.20M149.50 236.80V244.20M145.80 236.80L153.20 244.20M145.80 244.20L153.20 236.80M154.24 239.14H161.64M157.94 235.44V242.84M154.24 235.44L161.64 242.84M154.24 242.84L161.64 235.44M162.69 237.78H170.09M166.39 234.08V241.48M162.69 234.08L170.09 241.48M162.69 241.48L170.09 234.08M171.13 236.42H178.53M174.83 232.72V240.12M171.13 232.72L178.53 240.12M171.13 240.12L178.53 232.72M179.58 235.06H186.98M183.28 231.36V238.76M179.58 231.36L186.98 238.76M179.58 238.76L186.98 231.36M188.02 233.70H195.42M191.72 230.00V237.40M188.02 230.00L195.42 237.40M188.02 237.40L195.42 230.00M196.46 232.34H203.86M200.16 228.64V236.04M196.46 228.64L203.86 236.04M196.46 236.04L203.86 228.64M204.91 230.98H212.31M208.61 227.28V234.68M204.91 227.28L212.31 234.68M204.91 234.68L212.31 227.28M213.35 229.62H220.75M217.05 225.92V233.32M213.35 225.92L220.75 233.32M213.35 233.32L220.75 225.92M221.80 228.26H229.20M225.50 224.56V231.96M221.80 224.56L229.20 231.96M221.80 231.96L229.20 224.56M230.24 226.90H237.64M233.94 223.20V230.60M230.24 223.20L237.64 230.60M230.24 230.60L237.64 223.20M238.68 225.54H246.08M242.38 221.84V229.24M238.68 221.84L246.08 229.24M238.68 229.24L246.08 221.84M247.13 224.18H254.53M250.83 220.48V227.88M247.13 220.48L254.53 227.88M247.13 227.88L254.53 220.48M255.57 222.82H262.97M259.27 219.12V226.52M255.57 219.12L262.97 226.52M255.57 226.52L262.97 219.12M264.02 221.46H271.42M267.72 217.76V225.16M264.02 217.76L271.42 225.16M264.02 225.16L271.42 217.76M272.46 220.10H279.86M276.16 216.40V223.80M272.46 216.40L279.86 223.80M272.46 223.80L279.86 216.40M280.91 218.74H288.31M284.61 215.04V222.44M280.91 215.04L288.31 222.44M280.91 222.44L288.31 215.04M289.35 217.38H296.75M293.05 213.68V221.08M289.35 213.68L296.75 221.08M289.35 221.08L296.75 213.68M297.79 216.02H305.19M301.49 212.32V219.72M297.79 212.32L305.19 219.72M297.79 219.72L305.19 212.32M306.24 214.66H313.64M309.94 210.96V218.36M306.24 210.96L313.64 218.36M306.24 218.36L313.64 210.96M314.68 213.30H322.08M318.38 209.60V217.00M314.68 209.60L322.08 217.00M314.68 217.00L322.08 209.60M323.13 211.94H330.53M326.83 208.24V215.64M323.13 208.24L330.53 215.64M323.13 215.64L330.53 208.24M331.57 210.58H338.97M335.27 206.88V214.28M331.57 206.88L338.97 214.28M331.57 214.28L338.97 206.88M340.01 209.22H347.41M343.71 205.52V212.92M340.01 205.52L347.41 212.92M340.01 212.92L347.41 205.52M348.46 207.86H355.86M352.16 204.16V211.56M348.46 204.16L355.86 211.56M348.46 211.56L355.86 204.16M356.90 206.50H364.30M360.60 202.80V210.20M356.90 202.80L364.30 210.20M356.90 210.20L364.30 202.80M365.35 205.14H372.75M369.05 201.44V208.84M365.35 201.44L372.75 208.84M365.35 208.84L372.75 201.44M373.79 203.78H381.19M377.49 200.08V207.48M373.79 200.08L381.19 207.48M373.79 207.48L381.19 200.08M382.23 202.42H389.63M385.93 198.72V206.12M382.23 198.72L389.63 206.12M382.23 206.12L389.63 198.72M390.68 201.06H398.08M394.38 197.36V204.76M390.68 197.36L398.08 204.76M390.68 204.76L398.08 197.36M399.12 199.70H406.52M402.82 196.00V203.40M399.12 196.00L406.52 203.40M399.12 203.40L406.52 196.00M407.57 198.34H414.97M411.27 194.64V202.04M407.57 194.64L414.97 202.04M407.57 202.04L414.97 194.64M416.01 196.98H423.41M419.71 193.28V200.68M416.01 193.28L423.41 200.68M416.01 200.68L423.41 193.28M424.45 195.62H431.85M428.15 191.92V199.32M424.45 191.92L431.85 199.32M424.45 199.32L431.85 191.92M432.90 194.26H440.30M436.60 190.56V197.96M432.90 190.56L440.30 197.96M432.90 197.96L440.30 190.56M441.34 192.90H448.74M445.04 189.20V196.60M441.34 189.20L448.74 196.60M441.34 196.60L448.74 189.20M449.79 191.54H457.19M453.49 187.84V195.24M449.79 187.84L457.19 195.24M449.79 195.24L457.19 187.84M458.23 190.18H465.63M461.93 186.48V193.88M458.23 186.48L465.63 193.88M458.23 193.88L465.63 186.48M466.67 188.82H474.07M470.37 185.12V192.52M466.67 185.12L474.07 192.52M466.67 192.52L474.07 185.12M475.12 187.46H482.52M478.82 183.76V191.16M475.12 183.76L482.52 191.16M475.12 191.16L482.52 183.76M483.56 186.10H490.96M487.26 182.40V189.80M483.56 182.40L490.96 189.80M483.56 189.80L490.96 182.40M492.01 184.74H499.41M495.71 181.04V188.44M492.01 181.04L499.41 188.44M492.01 188.44L499.41 181.04M500.45 183.38H507.85M504.15 179.68V187.08M500.45 179.68L507.85 187.08M500.45 187.08L507.85 179.68M508.89 182.02H516.29M512.59 178.32V185.72M508.89 178.32L516.29 185.72M508.89 185.72L516.29 178.32M517.34 180.66H524.74M521.04 176.96V184.36M517.34 176.96L524.74 184.36M517.34 184.36L524.74 176.96M525.78 179.30H533.18M529.48 175.60V183.00M525.78 175.60L533.18 183.00M525.78 183.00L533.18 175.60M534.23 177.94H541.63M537.93 174.24V181.64M534.23 174.24L541.63 181.64M534.23 181.64L541.63 174.24M542.67 176.58H550.07M546.37 172.88V180.28M542.67 172.88L550.07 180.28M542.67 180.28L550.07 172.88M551.12 175.22H558.52M554.82 171.52V178.92M551.12 171.52L558.52 178.92M551.12 178.92L558.52 171.52M559.56 173.86H566.96M563.26 170.16V177.56M559.56 170.16L566.96 177.56M559.56 177.56L566.96 170.16M568.00 172.50H575.40M571.70 168.80V176.20M568.00 168.80L575.40 176.20M568.00 176.20L575.40 168.80M576.45 171.14H583.85M580.15 167.44V174.84M576.45 167.44L583.85 174.84M576.45 174.84L583.85 167.44M584.89 169.78H592.29M588.59 166.08V173.48M584.89 166.08L592.29 173.48M584.89 173.48L592.29 166.08M593.34 168.42H600.74M597.04 164.72V172.12M593.34 164.72L600.74 172.12M593.34 172.12L600.74 164.72M601.78 167.06H609.18M605.48 163.36V170.76M601.78 163.36L609.18 170.76M601.78 170.76L609.18 163.36M610.22 165.70H617.62M613.92 162.00V169.40M610.22 162.00L617.62 169.40M610.22 169.40L617.62 162.00M618.67 164.34H626.07M622.37 160.64V168.04M618.67 160.64L626.07 168.04M618.67 168.04L626.07 160.64M627.11 162.98H634.51M630.81 159.28V166.68M627.11 159.28L634.51 166.68M627.11 166.68L634.51 159.28M635.56 161.62H642.96M639.26 157.92V165.32M635.56 157.92L642.96 165.32M635.56 165.32L642.96 157.92M644.00 160.26H651.40M647.70 156.56V163.96M644.00 156.56L651.40 163.96M644.00 163.96L651.40 156.56"/>
<path stroke="#D2FF00" stroke-width="0.70" d="M149.50 246.20V256.20M145.60 246.20H153.40M145.60 256.20H153.40M157.94 244.34V254.30M154.04 244.34H161.84M154.04 254.30H161.84M166.39 242.48V252.40M162.49 242.48H170.29M162.49 252.40H170.29M174.83 240.63V250.51M170.93 240.63H178.73M170.93 250.51H178.73M183.28 238.78V248.62M179.38 238.78H187.18M179.38 248.62H187.18M191.72 236.93V246.73M187.82 236.93H195.62M187.82 246.73H195.62M200.16 235.09V244.85M196.26 235.09H204.06M196.26 244.85H204.06M208.61 233.24V242.96M204.71 233.24H212.51M204.71 242.96H212.51M217.05 231.39V241.07M213.15 231.39H220.95M213.15 241.07H220.95M225.50 229.52V239.16M221.60 229.52H229.40M221.60 239.16H229.40M233.94 227.59V237.19M230.04 227.59H237.84M230.04 237.19H237.84M242.38 225.59V235.15M238.48 225.59H246.28M238.48 235.15H246.28M250.83 223.54V233.06M246.93 223.54H254.73M246.93 233.06H254.73M259.27 221.46V230.94M255.37 221.46H263.17M255.37 230.94H263.17M267.72 219.38V228.82M263.82 219.38H271.62M263.82 228.82H271.62M276.16 217.31V226.71M272.26 217.31H280.06M272.26 226.71H280.06M284.61 215.28V224.64M280.71 215.28H288.51M280.71 224.64H288.51M293.05 213.37V222.69M289.15 213.37H296.95M289.15 222.69H296.95M301.49 211.59V220.87M297.59 211.59H305.39M297.59 220.87H305.39M309.94 209.87V219.11M306.04 209.87H313.84M306.04 219.11H313.84M318.38 208.13V217.33M314.48 208.13H322.28M314.48 217.33H322.28M326.83 206.39V215.51M322.93 206.39H330.73M322.93 215.51H330.73M335.27 204.66V213.70M331.37 204.66H339.17M331.37 213.70H339.17M343.71 202.96V211.92M339.81 202.96H347.61M339.81 211.92H347.61M352.16 201.28V210.16M348.26 201.28H356.06M348.26 210.16H356.06M360.60 199.62V208.42M356.70 199.62H364.50M356.70 208.42H364.50M369.05 198.01V206.73M365.15 198.01H372.95M365.15 206.73H372.95M377.49 196.41V205.05M373.59 196.41H381.39M373.59 205.05H381.39M385.93 194.79V203.35M382.03 194.79H389.83M382.03 203.35H389.83M394.38 193.14V201.62M390.48 193.14H398.28M390.48 201.62H398.28M402.82 191.55V199.95M398.92 191.55H406.72M398.92 199.95H406.72M411.27 190.12V198.44M407.37 190.12H415.17M407.37 198.44H415.17M419.71 188.82V197.06M415.81 188.82H423.61M415.81 197.06H423.61M428.15 187.59V195.75M424.25 187.59H432.05M424.25 195.75H432.05M436.60 186.37V194.45M432.70 186.37H440.50M432.70 194.45H440.50M445.04 185.12V193.12M441.14 185.12H448.94M441.14 193.12H448.94M453.49 183.79V191.77M449.59 183.79H457.39M449.59 191.77H457.39M461.93 182.41V190.38M458.03 182.41H465.83M458.03 190.38H465.83M470.37 181.03V188.97M466.47 181.03H474.27M466.47 188.97H474.27M478.82 179.63V187.57M474.92 179.63H482.72M474.92 187.57H482.72M487.26 178.24V186.15M483.36 178.24H491.16M483.36 186.15H491.16M495.71 176.83V184.73M491.81 176.83H499.61M491.81 184.73H499.61M504.15 175.42V183.30M500.25 175.42H508.05M500.25 183.30H508.05M512.59 174.00V181.87M508.69 174.00H516.49M508.69 181.87H516.49M521.04 172.57V180.43M517.14 172.57H524.94M517.14 180.43H524.94M529.48 171.15V178.99M525.58 171.15H533.38M525.58 178.99H533.38M537.93 169.74V177.56M534.03 169.74H541.83M534.03 177.56H541.83M546.37 168.36V176.16M542.47 168.36H550.27M542.47 176.16H550.27M554.82 167.01V174.79M550.92 167.01H558.72M550.92 174.79H558.72M563.26 165.69V173.46M559.36 165.69H567.16M559.36 173.46H567.16M571.70 164.38V172.13M567.80 164.38H575.60M567.80 172.13H575.60M580.15 163.08V170.81M576.25 163.08H584.05M576.25 170.81H584.05M588.59 161.77V169.49M584.69 161.77H592.49M584.69 169.49H592.49M597.04 160.48V168.18M593.14 160.48H600.94M593.14 168.18H600.94M605.48 159.21V166.90M601.58 159.21H609.38M601.58 166.90H609.38M613.92 157.98V165.65M610.02 157.98H617.82M610.02 165.65H617.82M622.37 156.78V164.43M618.47 156.78H626.27M618.47 164.43H626.27M630.81 155.58V163.22M626.91 155.58H634.71M626.91 163.22H634.71M639.26 154.39V162.01M635.36 154.39H643.16M635.36 162.01H643.16M647.70 153.20V160.80M643.80 153.20H651.60M643.80 160.80H651.60"/>
<path stroke="#D2FF00" stroke-width="0.82" d="M145.80 251.20H153.20M149.50 247.50V254.90M145.80 247.50L153.20 254.90M145.80 254.90L153.20 247.50M154.24 249.32H161.64M157.94 245.62V253.02M154.24 245.62L161.64 253.02M154.24 253.02L161.64 245.62M162.69 247.44H170.09M166.39 243.74V251.14M162.69 243.74L170.09 251.14M162.69 251.14L170.09 243.74M171.13 245.57H178.53M174.83 241.87V249.27M171.13 241.87L178.53 249.27M171.13 249.27L178.53 241.87M179.58 243.70H186.98M183.28 240.00V247.40M179.58 240.00L186.98 247.40M179.58 247.40L186.98 240.00M188.02 241.83H195.42M191.72 238.13V245.53M188.02 238.13L195.42 245.53M188.02 245.53L195.42 238.13M196.46 239.97H203.86M200.16 236.27V243.67M196.46 236.27L203.86 243.67M196.46 243.67L203.86 236.27M204.91 238.10H212.31M208.61 234.40V241.80M204.91 234.40L212.31 241.80M204.91 241.80L212.31 234.40M213.35 236.23H220.75M217.05 232.53V239.93M213.35 232.53L220.75 239.93M213.35 239.93L220.75 232.53M221.80 234.34H229.20M225.50 230.64V238.04M221.80 230.64L229.20 238.04M221.80 238.04L229.20 230.64M230.24 232.39H237.64M233.94 228.69V236.09M230.24 228.69L237.64 236.09M230.24 236.09L237.64 228.69M238.68 230.37H246.08M242.38 226.67V234.07M238.68 226.67L246.08 234.07M238.68 234.07L246.08 226.67M247.13 228.30H254.53M250.83 224.60V232.00M247.13 224.60L254.53 232.00M247.13 232.00L254.53 224.60M255.57 226.20H262.97M259.27 222.50V229.90M255.57 222.50L262.97 229.90M255.57 229.90L262.97 222.50M264.02 224.10H271.42M267.72 220.40V227.80M264.02 220.40L271.42 227.80M264.02 227.80L271.42 220.40M272.46 222.01H279.86M276.16 218.31V225.71M272.46 218.31L279.86 225.71M272.46 225.71L279.86 218.31M280.91 219.96H288.31M284.61 216.26V223.66M280.91 216.26L288.31 223.66M280.91 223.66L288.31 216.26M289.35 218.03H296.75M293.05 214.33V221.73M289.35 214.33L296.75 221.73M289.35 221.73L296.75 214.33M297.79 216.23H305.19M301.49 212.53V219.93M297.79 212.53L305.19 219.93M297.79 219.93L305.19 212.53M306.24 214.49H313.64M309.94 210.79V218.19M306.24 210.79L313.64 218.19M306.24 218.19L313.64 210.79M314.68 212.73H322.08M318.38 209.03V216.43M314.68 209.03L322.08 216.43M314.68 216.43L322.08 209.03M323.13 210.95H330.53M326.83 207.25V214.65M323.13 207.25L330.53 214.65M323.13 214.65L330.53 207.25M331.57 209.18H338.97M335.27 205.48V212.88M331.57 205.48L338.97 212.88M331.57 212.88L338.97 205.48M340.01 207.44H347.41M343.71 203.74V211.14M340.01 203.74L347.41 211.14M340.01 211.14L347.41 203.74M348.46 205.72H355.86M352.16 202.02V209.42M348.46 202.02L355.86 209.42M348.46 209.42L355.86 202.02M356.90 204.02H364.30M360.60 200.32V207.72M356.90 200.32L364.30 207.72M356.90 207.72L364.30 200.32M365.35 202.37H372.75M369.05 198.67V206.07M365.35 198.67L372.75 206.07M365.35 206.07L372.75 198.67M373.79 200.73H381.19M377.49 197.03V204.43M373.79 197.03L381.19 204.43M373.79 204.43L381.19 197.03M382.23 199.07H389.63M385.93 195.37V202.77M382.23 195.37L389.63 202.77M382.23 202.77L389.63 195.37M390.68 197.38H398.08M394.38 193.68V201.08M390.68 193.68L398.08 201.08M390.68 201.08L398.08 193.68M399.12 195.75H406.52M402.82 192.05V199.45M399.12 192.05L406.52 199.45M399.12 199.45L406.52 192.05M407.57 194.28H414.97M411.27 190.58V197.98M407.57 190.58L414.97 197.98M407.57 197.98L414.97 190.58M416.01 192.94H423.41M419.71 189.24V196.64M416.01 189.24L423.41 196.64M416.01 196.64L423.41 189.24M424.45 191.67H431.85M428.15 187.97V195.37M424.45 187.97L431.85 195.37M424.45 195.37L431.85 187.97M432.90 190.41H440.30M436.60 186.71V194.11M432.90 186.71L440.30 194.11M432.90 194.11L440.30 186.71M441.34 189.12H448.74M445.04 185.42V192.82M441.34 185.42L448.74 192.82M441.34 192.82L448.74 185.42M449.79 187.78H457.19M453.49 184.08V191.48M449.79 184.08L457.19 191.48M449.79 191.48L457.19 184.08M458.23 186.40H465.63M461.93 182.70V190.10M458.23 182.70L465.63 190.10M458.23 190.10L465.63 182.70M466.67 185.00H474.07M470.37 181.30V188.70M466.67 181.30L474.07 188.70M466.67 188.70L474.07 181.30M475.12 183.60H482.52M478.82 179.90V187.30M475.12 179.90L482.52 187.30M475.12 187.30L482.52 179.90M483.56 182.20H490.96M487.26 178.50V185.90M483.56 178.50L490.96 185.90M483.56 185.90L490.96 178.50M492.01 180.78H499.41M495.71 177.08V184.48M492.01 177.08L499.41 184.48M492.01 184.48L499.41 177.08M500.45 179.36H507.85M504.15 175.66V183.06M500.45 175.66L507.85 183.06M500.45 183.06L507.85 175.66M508.89 177.93H516.29M512.59 174.23V181.63M508.89 174.23L516.29 181.63M508.89 181.63L516.29 174.23M517.34 176.50H524.74M521.04 172.80V180.20M517.34 172.80L524.74 180.20M517.34 180.20L524.74 172.80M525.78 175.07H533.18M529.48 171.37V178.77M525.78 171.37L533.18 178.77M525.78 178.77L533.18 171.37M534.23 173.65H541.63M537.93 169.95V177.35M534.23 169.95L541.63 177.35M534.23 177.35L541.63 169.95M542.67 172.26H550.07M546.37 168.56V175.96M542.67 168.56L550.07 175.96M542.67 175.96L550.07 168.56M551.12 170.90H558.52M554.82 167.20V174.60M551.12 167.20L558.52 174.60M551.12 174.60L558.52 167.20M559.56 169.57H566.96M563.26 165.87V173.27M559.56 165.87L566.96 173.27M559.56 173.27L566.96 165.87M568.00 168.26H575.40M571.70 164.56V171.96M568.00 164.56L575.40 171.96M568.00 171.96L575.40 164.56M576.45 166.94H583.85M580.15 163.24V170.64M576.45 163.24L583.85 170.64M576.45 170.64L583.85 163.24M584.89 165.63H592.29M588.59 161.93V169.33M584.89 161.93L592.29 169.33M584.89 169.33L592.29 161.93M593.34 164.33H600.74M597.04 160.63V168.03M593.34 160.63L600.74 168.03M593.34 168.03L600.74 160.63M601.78 163.05H609.18M605.48 159.35V166.75M601.78 159.35L609.18 166.75M601.78 166.75L609.18 159.35M610.22 161.81H617.62M613.92 158.11V165.51M610.22 158.11L617.62 165.51M610.22 165.51L617.62 158.11M618.67 160.60H626.07M622.37 156.90V164.30M618.67 156.90L626.07 164.30M618.67 164.30L626.07 156.90M627.11 159.40H634.51M630.81 155.70V163.10M627.11 155.70L634.51 163.10M627.11 163.10L634.51 155.70M635.56 158.20H642.96M639.26 154.50V161.90M635.56 154.50L642.96 161.90M635.56 161.90L642.96 154.50M644.00 157.00H651.40M647.70 153.30V160.70M644.00 153.30L651.40 160.70M644.00 160.70L651.40 153.30"/>
<path stroke="#FFAA00" stroke-width="0.70" d="M149.50 252.50V266.50M145.60 252.50H153.40M145.60 266.50H153.40M157.94 250.96V264.91M154.04 250.96H161.84M154.04 264.91H161.84M166.39 249.41V263.31M162.49 249.41H170.29M162.49 263.31H170.29M174.83 247.87V261.72M170.93 247.87H178.73M170.93 261.72H178.73M183.28 246.32V260.12M179.38 246.32H187.18M179.38 260.12H187.18M191.72 244.78V258.52M187.82 244.78H195.62M187.82 258.52H195.62M200.16 243.23V256.93M196.26 243.23H204.06M196.26 256.93H204.06M208.61 241.69V255.33M204.71 241.69H212.51M204.71 255.33H212.51M217.05 240.14V253.74M213.15 240.14H220.95M213.15 253.74H220.95M225.50 238.61V252.16M221.60 238.61H229.40M221.60 252.16H229.40M233.94 237.10V250.60M230.04 237.10H237.84M230.04 250.60H237.84M242.38 235.62V249.07M238.48 235.62H246.28M238.48 249.07H246.28M250.83 234.16V247.56M246.93 234.16H254.73M246.93 247.56H254.73M259.27 232.72V246.07M255.37 232.72H263.17M255.37 246.07H263.17M267.72 231.27V244.57M263.82 231.27H271.62M263.82 244.57H271.62M276.16 229.82V243.07M272.26 229.82H280.06M272.26 243.07H280.06M284.61 228.38V241.58M280.71 228.38H288.51M280.71 241.58H288.51M293.05 226.94V240.08M289.15 226.94H296.95M289.15 240.08H296.95M301.49 225.49V238.59M297.59 225.49H305.39M297.59 238.59H305.39M309.94 224.05V237.10M306.04 224.05H313.84M306.04 237.10H313.84M318.38 222.62V235.62M314.48 222.62H322.28M314.48 235.62H322.28M326.83 221.19V234.19M322.93 221.19H330.73M322.93 234.19H330.73M335.27 219.76V232.76M331.37 219.76H339.17M331.37 232.76H339.17M343.71 218.34V231.34M339.81 218.34H347.61M339.81 231.34H347.61M352.16 216.92V229.92M348.26 216.92H356.06M348.26 229.92H356.06M360.60 215.50V228.50M356.70 215.50H364.50M356.70 228.50H364.50M369.05 214.08V227.08M365.15 214.08H372.95M365.15 227.08H372.95M377.49 212.66V225.66M373.59 212.66H381.39M373.59 225.66H381.39M385.93 211.24V224.24M382.03 211.24H389.83M382.03 224.24H389.83M394.38 209.82V222.82M390.48 209.82H398.28M390.48 222.82H398.28M402.82 208.40V221.40M398.92 208.40H406.72M398.92 221.40H406.72M411.27 206.98V219.98M407.37 206.98H415.17M407.37 219.98H415.17M419.71 205.56V218.56M415.81 205.56H423.61M415.81 218.56H423.61M428.15 204.14V217.14M424.25 204.14H432.05M424.25 217.14H432.05M436.60 202.71V215.71M432.70 202.71H440.50M432.70 215.71H440.50M445.04 201.26V214.26M441.14 201.26H448.94M441.14 214.26H448.94M453.49 199.79V212.79M449.59 199.79H457.39M449.59 212.79H457.39M461.93 198.30V211.30M458.03 198.30H465.83M458.03 211.30H465.83M470.37 196.80V209.80M466.47 196.80H474.27M466.47 209.80H474.27M478.82 195.30V208.30M474.92 195.30H482.72M474.92 208.30H482.72M487.26 193.81V206.81M483.36 193.81H491.16M483.36 206.81H491.16M495.71 192.35V205.35M491.81 192.35H499.61M491.81 205.35H499.61M504.15 190.93V203.93M500.25 190.93H508.05M500.25 203.93H508.05M512.59 189.54V202.54M508.69 189.54H516.49M508.69 202.54H516.49M521.04 188.15V201.15M517.14 188.15H524.94M517.14 201.15H524.94M529.48 186.77V199.77M525.58 186.77H533.38M525.58 199.77H533.38M537.93 185.41V198.41M534.03 185.41H541.83M534.03 198.41H541.83M546.37 184.09V197.09M542.47 184.09H550.27M542.47 197.09H550.27M554.82 182.82V195.82M550.92 182.82H558.72M550.92 195.82H558.72M563.26 181.75V194.46M559.36 181.75H567.16M559.36 194.46H567.16M571.70 180.69V193.11M567.80 180.69H575.60M567.80 193.11H575.60M580.15 179.63V191.77M576.25 179.63H584.05M576.25 191.77H584.05M588.59 178.57V190.43M584.69 178.57H592.49M584.69 190.43H592.49M597.04 177.52V189.09M593.14 177.52H600.94M593.14 189.09H600.94M605.48 176.49V187.77M601.58 176.49H609.38M601.58 187.77H609.38M613.92 175.47V186.47M610.02 175.47H617.82M610.02 186.47H617.82M622.37 174.32V185.32M618.47 174.32H626.27M618.47 185.32H626.27M630.81 173.18V184.18M626.91 173.18H634.71M626.91 184.18H634.71M639.26 172.04V183.04M635.36 172.04H643.16M635.36 183.04H643.16M647.70 170.90V181.90M643.80 170.90H651.60M643.80 181.90H651.60"/>
<path stroke="#FFAA00" stroke-width="0.82" d="M145.80 259.50H153.20M149.50 255.80V263.20M145.80 255.80L153.20 263.20M145.80 263.20L153.20 255.80M154.24 257.93H161.64M157.94 254.23V261.63M154.24 254.23L161.64 261.63M154.24 261.63L161.64 254.23M162.69 256.36H170.09M166.39 252.66V260.06M162.69 252.66L170.09 260.06M162.69 260.06L170.09 252.66M171.13 254.79H178.53M174.83 251.09V258.49M171.13 251.09L178.53 258.49M171.13 258.49L178.53 251.09M179.58 253.22H186.98M183.28 249.52V256.92M179.58 249.52L186.98 256.92M179.58 256.92L186.98 249.52M188.02 251.65H195.42M191.72 247.95V255.35M188.02 247.95L195.42 255.35M188.02 255.35L195.42 247.95M196.46 250.08H203.86M200.16 246.38V253.78M196.46 246.38L203.86 253.78M196.46 253.78L203.86 246.38M204.91 248.51H212.31M208.61 244.81V252.21M204.91 244.81L212.31 252.21M204.91 252.21L212.31 244.81M213.35 246.94H220.75M217.05 243.24V250.64M213.35 243.24L220.75 250.64M213.35 250.64L220.75 243.24M221.80 245.38H229.20M225.50 241.68V249.08M221.80 241.68L229.20 249.08M221.80 249.08L229.20 241.68M230.24 243.85H237.64M233.94 240.15V247.55M230.24 240.15L237.64 247.55M230.24 247.55L237.64 240.15M238.68 242.34H246.08M242.38 238.64V246.04M238.68 238.64L246.08 246.04M238.68 246.04L246.08 238.64M247.13 240.86H254.53M250.83 237.16V244.56M247.13 237.16L254.53 244.56M247.13 244.56L254.53 237.16M255.57 239.39H262.97M259.27 235.69V243.09M255.57 235.69L262.97 243.09M255.57 243.09L262.97 235.69M264.02 237.92H271.42M267.72 234.22V241.62M264.02 234.22L271.42 241.62M264.02 241.62L271.42 234.22M272.46 236.45H279.86M276.16 232.75V240.15M272.46 232.75L279.86 240.15M272.46 240.15L279.86 232.75M280.91 234.98H288.31M284.61 231.28V238.68M280.91 231.28L288.31 238.68M280.91 238.68L288.31 231.28M289.35 233.51H296.75M293.05 229.81V237.21M289.35 229.81L296.75 237.21M289.35 237.21L296.75 229.81M297.79 232.04H305.19M301.49 228.34V235.74M297.79 228.34L305.19 235.74M297.79 235.74L305.19 228.34M306.24 230.58H313.64M309.94 226.88V234.28M306.24 226.88L313.64 234.28M306.24 234.28L313.64 226.88M314.68 229.12H322.08M318.38 225.42V232.82M314.68 225.42L322.08 232.82M314.68 232.82L322.08 225.42M323.13 227.69H330.53M326.83 223.99V231.39M323.13 223.99L330.53 231.39M323.13 231.39L330.53 223.99M331.57 226.26H338.97M335.27 222.56V229.96M331.57 222.56L338.97 229.96M331.57 229.96L338.97 222.56M340.01 224.84H347.41M343.71 221.14V228.54M340.01 221.14L347.41 228.54M340.01 228.54L347.41 221.14M348.46 223.42H355.86M352.16 219.72V227.12M348.46 219.72L355.86 227.12M348.46 227.12L355.86 219.72M356.90 222.00H364.30M360.60 218.30V225.70M356.90 218.30L364.30 225.70M356.90 225.70L364.30 218.30M365.35 220.58H372.75M369.05 216.88V224.28M365.35 216.88L372.75 224.28M365.35 224.28L372.75 216.88M373.79 219.16H381.19M377.49 215.46V222.86M373.79 215.46L381.19 222.86M373.79 222.86L381.19 215.46M382.23 217.74H389.63M385.93 214.04V221.44M382.23 214.04L389.63 221.44M382.23 221.44L389.63 214.04M390.68 216.32H398.08M394.38 212.62V220.02M390.68 212.62L398.08 220.02M390.68 220.02L398.08 212.62M399.12 214.90H406.52M402.82 211.20V218.60M399.12 211.20L406.52 218.60M399.12 218.60L406.52 211.20M407.57 213.48H414.97M411.27 209.78V217.18M407.57 209.78L414.97 217.18M407.57 217.18L414.97 209.78M416.01 212.06H423.41M419.71 208.36V215.76M416.01 208.36L423.41 215.76M416.01 215.76L423.41 208.36M424.45 210.64H431.85M428.15 206.94V214.34M424.45 206.94L431.85 214.34M424.45 214.34L431.85 206.94M432.90 209.21H440.30M436.60 205.51V212.91M432.90 205.51L440.30 212.91M432.90 212.91L440.30 205.51M441.34 207.76H448.74M445.04 204.06V211.46M441.34 204.06L448.74 211.46M441.34 211.46L448.74 204.06M449.79 206.29H457.19M453.49 202.59V209.99M449.79 202.59L457.19 209.99M449.79 209.99L457.19 202.59M458.23 204.80H465.63M461.93 201.10V208.50M458.23 201.10L465.63 208.50M458.23 208.50L465.63 201.10M466.67 203.30H474.07M470.37 199.60V207.00M466.67 199.60L474.07 207.00M466.67 207.00L474.07 199.60M475.12 201.80H482.52M478.82 198.10V205.50M475.12 198.10L482.52 205.50M475.12 205.50L482.52 198.10M483.56 200.31H490.96M487.26 196.61V204.01M483.56 196.61L490.96 204.01M483.56 204.01L490.96 196.61M492.01 198.85H499.41M495.71 195.15V202.55M492.01 195.15L499.41 202.55M492.01 202.55L499.41 195.15M500.45 197.43H507.85M504.15 193.73V201.13M500.45 193.73L507.85 201.13M500.45 201.13L507.85 193.73M508.89 196.04H516.29M512.59 192.34V199.74M508.89 192.34L516.29 199.74M508.89 199.74L516.29 192.34M517.34 194.65H524.74M521.04 190.95V198.35M517.34 190.95L524.74 198.35M517.34 198.35L524.74 190.95M525.78 193.27H533.18M529.48 189.57V196.97M525.78 189.57L533.18 196.97M525.78 196.97L533.18 189.57M534.23 191.91H541.63M537.93 188.21V195.61M534.23 188.21L541.63 195.61M534.23 195.61L541.63 188.21M542.67 190.59H550.07M546.37 186.89V194.29M542.67 186.89L550.07 194.29M542.67 194.29L550.07 186.89M551.12 189.32H558.52M554.82 185.62V193.02M551.12 185.62L558.52 193.02M551.12 193.02L558.52 185.62M559.56 188.10H566.96M563.26 184.40V191.80M559.56 184.40L566.96 191.80M559.56 191.80L566.96 184.40M568.00 186.90H575.40M571.70 183.20V190.60M568.00 183.20L575.40 190.60M568.00 190.60L575.40 183.20M576.45 185.70H583.85M580.15 182.00V189.40M576.45 182.00L583.85 189.40M576.45 189.40L583.85 182.00M584.89 184.50H592.29M588.59 180.80V188.20M584.89 180.80L592.29 188.20M584.89 188.20L592.29 180.80M593.34 183.31H600.74M597.04 179.61V187.01M593.34 179.61L600.74 187.01M593.34 187.01L600.74 179.61M601.78 182.13H609.18M605.48 178.43V185.83M601.78 178.43L609.18 185.83M601.78 185.83L609.18 178.43M610.22 180.97H617.62M613.92 177.27V184.67M610.22 177.27L617.62 184.67M610.22 184.67L617.62 177.27M618.67 179.82H626.07M622.37 176.12V183.52M618.67 176.12L626.07 183.52M618.67 183.52L626.07 176.12M627.11 178.68H634.51M630.81 174.98V182.38M627.11 174.98L634.51 182.38M627.11 182.38L634.51 174.98M635.56 177.54H642.96M639.26 173.84V181.24M635.56 173.84L642.96 181.24M635.56 181.24L642.96 173.84M644.00 176.40H651.40M647.70 172.70V180.10M644.00 172.70L651.40 180.10M644.00 180.10L651.40 172.70"/>
<path stroke="#FF0000" stroke-width="0.70" d="M149.50 259.70V277.70M145.60 259.70H153.40M145.60 277.70H153.40M157.94 258.53V275.13M154.04 258.53H161.84M154.04 275.13H161.84M166.39 255.61V274.21M162.49 255.61H170.29M162.49 274.21H170.29M174.83 253.42V272.62M170.93 253.42H178.73M170.93 272.62H178.73M183.28 251.71V270.71M179.38 251.71H187.18M179.38 270.71H187.18M191.72 250.02V268.82M187.82 250.02H195.62M187.82 268.82H195.62M200.16 248.18V266.92M196.26 248.18H204.06M196.26 266.92H204.06M208.61 246.26V264.93M204.71 246.26H212.51M204.71 264.93H212.51M217.05 244.31V262.91M213.15 244.31H220.95M213.15 262.91H220.95M225.50 242.49V260.79M221.60 242.49H229.40M221.60 260.79H229.40M233.94 240.76V258.76M230.04 240.76H237.84M230.04 258.76H237.84M242.38 239.34V256.54M238.48 239.34H246.28M238.48 256.54H246.28M250.83 237.88V254.28M246.93 237.88H254.73M246.93 254.28H254.73M259.27 236.26V251.86M255.37 236.26H263.17M255.37 251.86H263.17M267.72 234.30V249.24M263.82 234.30H271.62M263.82 249.24H271.62M276.16 232.09V246.37M272.26 232.09H280.06M272.26 246.37H280.06M284.61 229.73V243.36M280.71 229.73H288.51M280.71 243.36H288.51M293.05 227.30V240.27M289.15 227.30H296.95M289.15 240.27H296.95M301.49 224.74V237.05M297.59 224.74H305.39M297.59 237.05H305.39M318.38 219.05V230.05M314.48 219.05H322.28M314.48 230.05H322.28M326.83 215.90V226.53M322.93 215.90H330.73M322.93 226.53H330.73M335.27 212.78V223.03M331.37 212.78H339.17M331.37 223.03H339.17M343.71 209.74V219.61M339.81 209.74H347.61M339.81 219.61H347.61M352.16 206.80V216.30M348.26 206.80H356.06M348.26 216.30H356.06M360.60 204.05V213.18M356.70 204.05H364.50M356.70 213.18H364.50M369.05 201.50V210.25M365.15 201.50H372.95M365.15 210.25H372.95M377.49 199.07V207.45M373.59 199.07H381.39M373.59 207.45H381.39M385.93 196.61V204.61M382.03 196.61H389.83M382.03 204.61H389.83M394.38 194.14V201.58M390.48 194.14H398.28M390.48 201.58H398.28M402.82 191.60V198.48M398.92 191.60H406.72M398.92 198.48H406.72M411.27 189.06V195.38M407.37 189.06H415.17M407.37 195.38H415.17M428.15 184.14V189.34M424.25 184.14H432.05M424.25 189.34H432.05M436.60 181.70V186.58M432.70 181.70H440.50M432.70 186.58H440.50M445.04 179.33V183.90M441.14 179.33H448.94M441.14 183.90H448.94M453.49 177.02V181.28M449.59 177.02H457.39M449.59 181.28H457.39M461.93 174.74V178.68M458.03 174.74H465.83M458.03 178.68H465.83M470.37 172.48V176.11M466.47 172.48H474.27M466.47 176.11H474.27M478.82 170.19V173.51M474.92 170.19H482.72M474.92 173.51H482.72M487.26 167.81V170.81M483.36 167.81H491.16M483.36 170.81H491.16M495.71 165.18V168.12M491.81 165.18H499.61M491.81 168.12H499.61M504.15 162.46V165.35M500.25 162.46H508.05M500.25 165.35H508.05M512.59 159.78V162.62M508.69 159.78H516.49M508.69 162.62H516.49M521.04 157.28V160.07M517.14 157.28H524.94M517.14 160.07H524.94M529.48 155.03V157.77M525.58 155.03H533.38M525.58 157.77H533.38M537.93 152.97V155.65M534.03 152.97H541.83M534.03 155.65H541.83M546.37 150.99V153.62M542.47 150.99H550.27M542.47 153.62H550.27M554.82 149.03V151.61M550.92 149.03H558.72M550.92 151.61H558.72M563.26 147.11V149.63M559.36 147.11H567.16M559.36 149.63H567.16M580.15 143.43V145.85M576.25 143.43H584.05M576.25 145.85H584.05M588.59 141.65V144.02M584.69 141.65H592.49M584.69 144.02H592.49M597.04 139.89V142.21M593.14 139.89H600.94M593.14 142.21H600.94M605.48 138.14V140.41M601.58 138.14H609.38M601.58 140.41H609.38M613.92 136.39V138.61M610.02 136.39H617.82M610.02 138.61H617.82M622.37 134.65V136.80M618.47 134.65H626.27M618.47 136.80H626.27M630.81 132.90V135.00M626.91 132.90H634.71M626.91 135.00H634.71M639.26 131.15V133.20M635.36 131.15H643.16M635.36 133.20H643.16M647.70 129.40V131.40M643.80 129.40H651.60M643.80 131.40H651.60"/>
<path stroke="#FF0000" stroke-width="0.82" d="M145.80 268.70H153.20M149.50 265.00V272.40M145.80 265.00L153.20 272.40M145.80 272.40L153.20 265.00M154.24 266.83H161.64M157.94 263.13V270.53M154.24 263.13L161.64 270.53M154.24 270.53L161.64 263.13M162.69 264.91H170.09M166.39 261.21V268.61M162.69 261.21L170.09 268.61M162.69 268.61L170.09 261.21M171.13 263.02H178.53M174.83 259.32V266.72M171.13 259.32L178.53 266.72M171.13 266.72L178.53 259.32M179.58 261.21H186.98M183.28 257.51V264.91M179.58 257.51L186.98 264.91M179.58 264.91L186.98 257.51M188.02 259.42H195.42M191.72 255.72V263.12M188.02 255.72L195.42 263.12M188.02 263.12L195.42 255.72M196.46 257.55H203.86M200.16 253.85V261.25M196.46 253.85L203.86 261.25M196.46 261.25L203.86 253.85M204.91 255.59H212.31M208.61 251.89V259.29M204.91 251.89L212.31 259.29M204.91 259.29L212.31 251.89M213.35 253.61H220.75M217.05 249.91V257.31M213.35 249.91L220.75 257.31M213.35 257.31L220.75 249.91M221.80 251.64H229.20M225.50 247.94V255.34M221.80 247.94L229.20 255.34M221.80 255.34L229.20 247.94M230.24 249.76H237.64M233.94 246.06V253.46M230.24 246.06L237.64 253.46M230.24 253.46L237.64 246.06M238.68 247.94H246.08M242.38 244.24V251.64M238.68 244.24L246.08 251.64M238.68 251.64L246.08 244.24M247.13 246.08H254.53M250.83 242.38V249.78M247.13 242.38L254.53 249.78M247.13 249.78L254.53 242.38M255.57 244.06H262.97M259.27 240.36V247.76M255.57 240.36L262.97 247.76M255.57 247.76L262.97 240.36M264.02 241.77H271.42M267.72 238.07V245.47M264.02 238.07L271.42 245.47M264.02 245.47L271.42 238.07M272.46 239.23H279.86M276.16 235.53V242.93M272.46 235.53L279.86 242.93M272.46 242.93L279.86 235.53M280.91 236.55H288.31M284.61 232.85V240.25M280.91 232.85L288.31 240.25M280.91 240.25L288.31 232.85M289.35 233.79H296.75M293.05 230.09V237.49M289.35 230.09L296.75 237.49M289.35 237.49L296.75 230.09M297.79 230.90H305.19M301.49 227.20V234.60M297.79 227.20L305.19 234.60M297.79 234.60L305.19 227.20M314.68 224.55H322.08M318.38 220.85V228.25M314.68 220.85L322.08 228.25M314.68 228.25L322.08 220.85M323.13 221.22H330.53M326.83 217.52V224.92M323.13 217.52L330.53 224.92M323.13 224.92L330.53 217.52M331.57 217.91H338.97M335.27 214.21V221.61M331.57 214.21L338.97 221.61M331.57 221.61L338.97 214.21M340.01 214.67H347.41M343.71 210.97V218.37M340.01 210.97L347.41 218.37M340.01 218.37L347.41 210.97M348.46 211.55H355.86M352.16 207.85V215.25M348.46 207.85L355.86 215.25M348.46 215.25L355.86 207.85M356.90 208.61H364.30M360.60 204.91V212.31M356.90 204.91L364.30 212.31M356.90 212.31L364.30 204.91M365.35 205.88H372.75M369.05 202.18V209.58M365.35 202.18L372.75 209.58M365.35 209.58L372.75 202.18M373.79 203.26H381.19M377.49 199.56V206.96M373.79 199.56L381.19 206.96M373.79 206.96L381.19 199.56M382.23 200.61H389.63M385.93 196.91V204.31M382.23 196.91L389.63 204.31M382.23 204.31L389.63 196.91M390.68 197.86H398.08M394.38 194.16V201.56M390.68 194.16L398.08 201.56M390.68 201.56L398.08 194.16M399.12 195.04H406.52M402.82 191.34V198.74M399.12 191.34L406.52 198.74M399.12 198.74L406.52 191.34M407.57 192.22H414.97M411.27 188.52V195.92M407.57 188.52L414.97 195.92M407.57 195.92L414.97 188.52M424.45 186.74H431.85M428.15 183.04V190.44M424.45 183.04L431.85 190.44M424.45 190.44L431.85 183.04M432.90 184.14H440.30M436.60 180.44V187.84M432.90 180.44L440.30 187.84M432.90 187.84L440.30 180.44M441.34 181.62H448.74M445.04 177.92V185.32M441.34 177.92L448.74 185.32M441.34 185.32L448.74 177.92M449.79 179.15H457.19M453.49 175.45V182.85M449.79 175.45L457.19 182.85M449.79 182.85L457.19 175.45M458.23 176.71H465.63M461.93 173.01V180.41M458.23 173.01L465.63 180.41M458.23 180.41L465.63 173.01M466.67 174.30H474.07M470.37 170.60V178.00M466.67 170.60L474.07 178.00M466.67 178.00L474.07 170.60M475.12 171.85H482.52M478.82 168.15V175.55M475.12 168.15L482.52 175.55M475.12 175.55L482.52 168.15M483.56 169.31H490.96M487.26 165.61V173.01M483.56 165.61L490.96 173.01M483.56 173.01L490.96 165.61M492.01 166.65H499.41M495.71 162.95V170.35M492.01 162.95L499.41 170.35M492.01 170.35L499.41 162.95M500.45 163.91H507.85M504.15 160.21V167.61M500.45 160.21L507.85 167.61M500.45 167.61L507.85 160.21M508.89 161.20H516.29M512.59 157.50V164.90M508.89 157.50L516.29 164.90M508.89 164.90L516.29 157.50M517.34 158.68H524.74M521.04 154.98V162.38M517.34 154.98L524.74 162.38M517.34 162.38L524.74 154.98M525.78 156.40H533.18M529.48 152.70V160.10M525.78 152.70L533.18 160.10M525.78 160.10L533.18 152.70M534.23 154.31H541.63M537.93 150.61V158.01M534.23 150.61L541.63 158.01M534.23 158.01L541.63 150.61M542.67 152.30H550.07M546.37 148.60V156.00M542.67 148.60L550.07 156.00M542.67 156.00L550.07 148.60M551.12 150.32H558.52M554.82 146.62V154.02M551.12 146.62L558.52 154.02M551.12 154.02L558.52 146.62M559.56 148.37H566.96M563.26 144.67V152.07M559.56 144.67L566.96 152.07M559.56 152.07L566.96 144.67M576.45 144.64H583.85M580.15 140.94V148.34M576.45 140.94L583.85 148.34M576.45 148.34L583.85 140.94M584.89 142.83H592.29M588.59 139.13V146.53M584.89 139.13L592.29 146.53M584.89 146.53L592.29 139.13M593.34 141.05H600.74M597.04 137.35V144.75M593.34 137.35L600.74 144.75M593.34 144.75L600.74 137.35M601.78 139.28H609.18M605.48 135.58V142.97M601.78 135.58L609.18 142.97M601.78 142.97L609.18 135.58M610.22 137.50H617.62M613.92 133.80V141.20M610.22 133.80L617.62 141.20M610.22 141.20L617.62 133.80M618.67 135.72H626.07M622.37 132.03V139.42M618.67 132.03L626.07 139.42M618.67 139.42L626.07 132.03M627.11 133.95H634.51M630.81 130.25V137.65M627.11 130.25L634.51 137.65M627.11 137.65L634.51 130.25M635.56 132.18H642.96M639.26 128.48V135.88M635.56 128.48L642.96 135.88M635.56 135.88L642.96 128.48M644.00 130.40H651.40M647.70 126.70V134.10M644.00 126.70L651.40 134.10M644.00 134.10L651.40 126.70"/>
</g>
<path d="M172.9 73.80H219" stroke="#000000" stroke-width="2" fill="none"/>
<path d="M229.72 70.91 L229.72 70.49 L230.14 69.65 L230.56 69.23 L231.41 68.81 L233.09 68.81 L233.93 69.23 L234.35 69.65 L234.77 70.49 L234.77 71.33 L234.35 72.18 L233.51 73.44 L229.30 77.65 L235.19 77.65 M240.25 68.81 L238.98 69.23 L238.14 70.49 L237.72 72.60 L237.72 73.86 L238.14 75.97 L238.98 77.23 L240.25 77.65 L241.09 77.65 L242.35 77.23 L243.19 75.97 L243.61 73.86 L243.61 72.60 L243.19 70.49 L242.35 69.23 L241.09 68.81 L240.25 68.81 M253.30 67.12 L245.72 80.60 M257.93 68.81 L256.67 69.23 L255.82 70.49 L255.40 72.60 L255.40 73.86 L255.82 75.97 L256.67 77.23 L257.93 77.65 L258.77 77.65 L260.03 77.23 L260.88 75.97 L261.30 73.86 L261.30 72.60 L260.88 70.49 L260.03 69.23 L258.77 68.81 L257.93 68.81 M264.24 70.91 L264.24 70.49 L264.66 69.65 L265.09 69.23 L265.93 68.81 L267.61 68.81 L268.45 69.23 L268.87 69.65 L269.30 70.49 L269.30 71.33 L268.87 72.18 L268.03 73.44 L263.82 77.65 L269.72 77.65 M279.40 67.12 L271.82 80.60 M284.03 68.81 L282.77 69.23 L281.93 70.49 L281.50 72.60 L281.50 73.86 L281.93 75.97 L282.77 77.23 L284.03 77.65 L284.87 77.65 L286.13 77.23 L286.98 75.97 L287.40 73.86 L287.40 72.60 L286.98 70.49 L286.13 69.23 L284.87 68.81 L284.03 68.81 M290.35 70.91 L290.35 70.49 L290.77 69.65 L291.19 69.23 L292.03 68.81 L293.71 68.81 L294.56 69.23 L294.98 69.65 L295.40 70.49 L295.40 71.33 L294.98 72.18 L294.13 73.44 L289.92 77.65 L295.82 77.65" stroke="#000000" stroke-width="1.0" fill="none" stroke-linecap="round" stroke-linejoin="round"/>
<path d="M172.9 88.95H219" stroke="#8A4CAC" stroke-width="2" fill="none"/>
<path d="M229.72 86.06 L229.72 85.64 L230.14 84.80 L230.56 84.38 L231.41 83.96 L233.09 83.96 L233.93 84.38 L234.35 84.80 L234.77 85.64 L234.77 86.48 L234.35 87.33 L233.51 88.59 L229.30 92.80 L235.19 92.80 M240.25 83.96 L238.98 84.38 L238.14 85.64 L237.72 87.75 L237.72 89.01 L238.14 91.12 L238.98 92.38 L240.25 92.80 L241.09 92.80 L242.35 92.38 L243.19 91.12 L243.61 89.01 L243.61 87.75 L243.19 85.64 L242.35 84.38 L241.09 83.96 L240.25 83.96 M253.30 82.27 L245.72 95.75 M257.93 83.96 L256.67 84.38 L255.82 85.64 L255.40 87.75 L255.40 89.01 L255.82 91.12 L256.67 92.38 L257.93 92.80 L258.77 92.80 L260.03 92.38 L260.88 91.12 L261.30 89.01 L261.30 87.75 L260.88 85.64 L260.03 84.38 L258.77 83.96 L257.93 83.96 M268.03 83.96 L263.82 89.85 L270.14 89.85 M268.03 83.96 L268.03 92.80 M279.40 82.27 L271.82 95.75 M284.03 83.96 L282.77 84.38 L281.93 85.64 L281.50 87.75 L281.50 89.01 L281.93 91.12 L282.77 92.38 L284.03 92.80 L284.87 92.80 L286.13 92.38 L286.98 91.12 L287.40 89.01 L287.40 87.75 L286.98 85.64 L286.13 84.38 L284.87 83.96 L284.03 83.96 M290.35 86.06 L290.35 85.64 L290.77 84.80 L291.19 84.38 L292.03 83.96 L293.71 83.96 L294.56 84.38 L294.98 84.80 L295.40 85.64 L295.40 86.48 L294.98 87.33 L294.13 88.59 L289.92 92.80 L295.82 92.80" stroke="#8A4CAC" stroke-width="1.0" fill="none" stroke-linecap="round" stroke-linejoin="round"/>
<path d="M172.9 104.10H219" stroke="#4400E6" stroke-width="2" fill="none"/>
<path d="M229.72 101.21 L229.72 100.79 L230.14 99.95 L230.56 99.53 L231.41 99.11 L233.09 99.11 L233.93 99.53 L234.35 99.95 L234.77 100.79 L234.77 101.63 L234.35 102.48 L233.51 103.74 L229.30 107.95 L235.19 107.95 M240.25 99.11 L238.98 99.53 L238.14 100.79 L237.72 102.90 L237.72 104.16 L238.14 106.27 L238.98 107.53 L240.25 107.95 L241.09 107.95 L242.35 107.53 L243.19 106.27 L243.61 104.16 L243.61 102.90 L243.19 100.79 L242.35 99.53 L241.09 99.11 L240.25 99.11 M253.30 97.42 L245.72 110.90 M257.93 99.11 L256.67 99.53 L255.82 100.79 L255.40 102.90 L255.40 104.16 L255.82 106.27 L256.67 107.53 L257.93 107.95 L258.77 107.95 L260.03 107.53 L260.88 106.27 L261.30 104.16 L261.30 102.90 L260.88 100.79 L260.03 99.53 L258.77 99.11 L257.93 99.11 M269.30 100.37 L268.87 99.53 L267.61 99.11 L266.77 99.11 L265.51 99.53 L264.66 100.79 L264.24 102.90 L264.24 105.00 L264.66 106.69 L265.51 107.53 L266.77 107.95 L267.19 107.95 L268.45 107.53 L269.30 106.69 L269.72 105.42 L269.72 105.00 L269.30 103.74 L268.45 102.90 L267.19 102.48 L266.77 102.48 L265.51 102.90 L264.66 103.74 L264.24 105.00 M279.40 97.42 L271.82 110.90 M284.03 99.11 L282.77 99.53 L281.93 100.79 L281.50 102.90 L281.50 104.16 L281.93 106.27 L282.77 107.53 L284.03 107.95 L284.87 107.95 L286.13 107.53 L286.98 106.27 L287.40 104.16 L287.40 102.90 L286.98 100.79 L286.13 99.53 L284.87 99.11 L284.03 99.11 M290.35 101.21 L290.35 100.79 L290.77 99.95 L291.19 99.53 L292.03 99.11 L293.71 99.11 L294.56 99.53 L294.98 99.95 L295.40 100.79 L295.40 101.63 L294.98 102.48 L294.13 103.74 L289.92 107.95 L295.82 107.95" stroke="#4400E6" stroke-width="1.0" fill="none" stroke-linecap="round" stroke-linejoin="round"/>
<path d="M172.9 119.25H219" stroke="#1E6EFF" stroke-width="2" fill="none"/>
<path d="M230.56 115.94 L231.41 115.52 L232.67 114.26 L232.67 123.10 M243.19 117.21 L242.77 118.47 L241.93 119.31 L240.67 119.73 L240.25 119.73 L238.98 119.31 L238.14 118.47 L237.72 117.21 L237.72 116.78 L238.14 115.52 L238.98 114.68 L240.25 114.26 L240.67 114.26 L241.93 114.68 L242.77 115.52 L243.19 117.21 L243.19 119.31 L242.77 121.42 L241.93 122.68 L240.67 123.10 L239.83 123.10 L238.56 122.68 L238.14 121.84 M253.30 112.57 L245.72 126.05 M257.93 114.26 L256.67 114.68 L255.82 115.94 L255.40 118.05 L255.40 119.31 L255.82 121.42 L256.67 122.68 L257.93 123.10 L258.77 123.10 L260.03 122.68 L260.88 121.42 L261.30 119.31 L261.30 118.05 L260.88 115.94 L260.03 114.68 L258.77 114.26 L257.93 114.26 M269.72 114.26 L265.51 123.10 M263.82 114.26 L269.72 114.26 M279.40 112.57 L271.82 126.05 M284.03 114.26 L282.77 114.68 L281.93 115.94 L281.50 118.05 L281.50 119.31 L281.93 121.42 L282.77 122.68 L284.03 123.10 L284.87 123.10 L286.13 122.68 L286.98 121.42 L287.40 119.31 L287.40 118.05 L286.98 115.94 L286.13 114.68 L284.87 114.26 L284.03 114.26 M290.35 116.36 L290.35 115.94 L290.77 115.10 L291.19 114.68 L292.03 114.26 L293.71 114.26 L294.56 114.68 L294.98 115.10 L295.40 115.94 L295.40 116.78 L294.98 117.63 L294.13 118.89 L289.92 123.10 L295.82 123.10" stroke="#1E6EFF" stroke-width="1.0" fill="none" stroke-linecap="round" stroke-linejoin="round"/>
<path d="M172.9 134.40H219" stroke="#00EEFF" stroke-width="2" fill="none"/>
<path d="M230.56 131.09 L231.41 130.67 L232.67 129.41 L232.67 138.25 M240.25 129.41 L238.98 129.83 L238.14 131.09 L237.72 133.20 L237.72 134.46 L238.14 136.57 L238.98 137.83 L240.25 138.25 L241.09 138.25 L242.35 137.83 L243.19 136.57 L243.61 134.46 L243.61 133.20 L243.19 131.09 L242.35 129.83 L241.09 129.41 L240.25 129.41 M253.30 127.72 L245.72 141.20 M257.93 129.41 L256.67 129.83 L255.82 131.09 L255.40 133.20 L255.40 134.46 L255.82 136.57 L256.67 137.83 L257.93 138.25 L258.77 138.25 L260.03 137.83 L260.88 136.57 L261.30 134.46 L261.30 133.20 L260.88 131.09 L260.03 129.83 L258.77 129.41 L257.93 129.41 M269.30 132.36 L268.87 133.62 L268.03 134.46 L266.77 134.88 L266.35 134.88 L265.09 134.46 L264.24 133.62 L263.82 132.36 L263.82 131.94 L264.24 130.67 L265.09 129.83 L266.35 129.41 L266.77 129.41 L268.03 129.83 L268.87 130.67 L269.30 132.36 L269.30 134.46 L268.87 136.57 L268.03 137.83 L266.77 138.25 L265.93 138.25 L264.66 137.83 L264.24 136.99 M279.40 127.72 L271.82 141.20 M284.03 129.41 L282.77 129.83 L281.93 131.09 L281.50 133.20 L281.50 134.46 L281.93 136.57 L282.77 137.83 L284.03 138.25 L284.87 138.25 L286.13 137.83 L286.98 136.57 L287.40 134.46 L287.40 133.20 L286.98 131.09 L286.13 129.83 L284.87 129.41 L284.03 129.41 M290.35 131.51 L290.35 131.09 L290.77 130.25 L291.19 129.83 L292.03 129.41 L293.71 129.41 L294.56 129.83 L294.98 130.25 L295.40 131.09 L295.40 131.94 L294.98 132.78 L294.13 134.04 L289.92 138.25 L295.82 138.25" stroke="#00EEFF" stroke-width="1.0" fill="none" stroke-linecap="round" stroke-linejoin="round"/>
<path d="M172.9 149.55H219" stroke="#00FF50" stroke-width="2" fill="none"/>
<path d="M230.56 146.24 L231.41 145.82 L232.67 144.56 L232.67 153.40 M241.93 144.56 L237.72 150.45 L244.03 150.45 M241.93 144.56 L241.93 153.40 M253.30 142.88 L245.72 156.35 M257.93 144.56 L256.67 144.98 L255.82 146.24 L255.40 148.35 L255.40 149.61 L255.82 151.72 L256.67 152.98 L257.93 153.40 L258.77 153.40 L260.03 152.98 L260.88 151.72 L261.30 149.61 L261.30 148.35 L260.88 146.24 L260.03 144.98 L258.77 144.56 L257.93 144.56 M269.30 147.51 L268.87 148.77 L268.03 149.61 L266.77 150.03 L266.35 150.03 L265.09 149.61 L264.24 148.77 L263.82 147.51 L263.82 147.09 L264.24 145.82 L265.09 144.98 L266.35 144.56 L266.77 144.56 L268.03 144.98 L268.87 145.82 L269.30 147.51 L269.30 149.61 L268.87 151.72 L268.03 152.98 L266.77 153.40 L265.93 153.40 L264.66 152.98 L264.24 152.14 M279.40 142.88 L271.82 156.35 M284.03 144.56 L282.77 144.98 L281.93 146.24 L281.50 148.35 L281.50 149.61 L281.93 151.72 L282.77 152.98 L284.03 153.40 L284.87 153.40 L286.13 152.98 L286.98 151.72 L287.40 149.61 L287.40 148.35 L286.98 146.24 L286.13 144.98 L284.87 144.56 L284.03 144.56 M290.35 146.66 L290.35 146.24 L290.77 145.40 L291.19 144.98 L292.03 144.56 L293.71 144.56 L294.56 144.98 L294.98 145.40 L295.40 146.24 L295.40 147.09 L294.98 147.93 L294.13 149.19 L289.92 153.40 L295.82 153.40" stroke="#00FF50" stroke-width="1.0" fill="none" stroke-linecap="round" stroke-linejoin="round"/>
<path d="M172.9 164.70H219" stroke="#46FF00" stroke-width="2" fill="none"/>
<path d="M230.56 161.39 L231.41 160.97 L232.67 159.71 L232.67 168.55 M240.25 159.71 L238.98 160.13 L238.14 161.39 L237.72 163.50 L237.72 164.76 L238.14 166.87 L238.98 168.13 L240.25 168.55 L241.09 168.55 L242.35 168.13 L243.19 166.87 L243.61 164.76 L243.61 163.50 L243.19 161.39 L242.35 160.13 L241.09 159.71 L240.25 159.71 M253.30 158.02 L245.72 171.50 M257.93 159.71 L256.67 160.13 L255.82 161.39 L255.40 163.50 L255.40 164.76 L255.82 166.87 L256.67 168.13 L257.93 168.55 L258.77 168.55 L260.03 168.13 L260.88 166.87 L261.30 164.76 L261.30 163.50 L260.88 161.39 L260.03 160.13 L258.77 159.71 L257.93 159.71 M264.66 159.71 L269.30 159.71 L266.77 163.08 L268.03 163.08 L268.87 163.50 L269.30 163.92 L269.72 165.18 L269.72 166.02 L269.30 167.29 L268.45 168.13 L267.19 168.55 L265.93 168.55 L264.66 168.13 L264.24 167.71 L263.82 166.87 M279.40 158.02 L271.82 171.50 M284.03 159.71 L282.77 160.13 L281.93 161.39 L281.50 163.50 L281.50 164.76 L281.93 166.87 L282.77 168.13 L284.03 168.55 L284.87 168.55 L286.13 168.13 L286.98 166.87 L287.40 164.76 L287.40 163.50 L286.98 161.39 L286.13 160.13 L284.87 159.71 L284.03 159.71 M290.77 159.71 L295.40 159.71 L292.87 163.08 L294.13 163.08 L294.98 163.50 L295.40 163.92 L295.82 165.18 L295.82 166.02 L295.40 167.29 L294.56 168.13 L293.29 168.55 L292.03 168.55 L290.77 168.13 L290.35 167.71 L289.92 166.87" stroke="#46FF00" stroke-width="1.0" fill="none" stroke-linecap="round" stroke-linejoin="round"/>
<path d="M172.9 179.85H219" stroke="#D2FF00" stroke-width="2" fill="none"/>
<path d="M230.56 176.54 L231.41 176.12 L232.67 174.86 L232.67 183.70 M239.83 174.86 L238.56 175.28 L238.14 176.12 L238.14 176.96 L238.56 177.81 L239.40 178.23 L241.09 178.65 L242.35 179.07 L243.19 179.91 L243.61 180.75 L243.61 182.02 L243.19 182.86 L242.77 183.28 L241.51 183.70 L239.83 183.70 L238.56 183.28 L238.14 182.86 L237.72 182.02 L237.72 180.75 L238.14 179.91 L238.98 179.07 L240.25 178.65 L241.93 178.23 L242.77 177.81 L243.19 176.96 L243.19 176.12 L242.77 175.28 L241.51 174.86 L239.83 174.86 M253.30 173.17 L245.72 186.65 M257.93 174.86 L256.67 175.28 L255.82 176.54 L255.40 178.65 L255.40 179.91 L255.82 182.02 L256.67 183.28 L257.93 183.70 L258.77 183.70 L260.03 183.28 L260.88 182.02 L261.30 179.91 L261.30 178.65 L260.88 176.54 L260.03 175.28 L258.77 174.86 L257.93 174.86 M264.66 174.86 L269.30 174.86 L266.77 178.23 L268.03 178.23 L268.87 178.65 L269.30 179.07 L269.72 180.33 L269.72 181.17 L269.30 182.44 L268.45 183.28 L267.19 183.70 L265.93 183.70 L264.66 183.28 L264.24 182.86 L263.82 182.02 M279.40 173.17 L271.82 186.65 M284.03 174.86 L282.77 175.28 L281.93 176.54 L281.50 178.65 L281.50 179.91 L281.93 182.02 L282.77 183.28 L284.03 183.70 L284.87 183.70 L286.13 183.28 L286.98 182.02 L287.40 179.91 L287.40 178.65 L286.98 176.54 L286.13 175.28 L284.87 174.86 L284.03 174.86 M290.77 174.86 L295.40 174.86 L292.87 178.23 L294.13 178.23 L294.98 178.65 L295.40 179.07 L295.82 180.33 L295.82 181.17 L295.40 182.44 L294.56 183.28 L293.29 183.70 L292.03 183.70 L290.77 183.28 L290.35 182.86 L289.92 182.02" stroke="#D2FF00" stroke-width="1.0" fill="none" stroke-linecap="round" stroke-linejoin="round"/>
<path d="M172.9 195.00H219" stroke="#FFAA00" stroke-width="2" fill="none"/>
<path d="M230.56 191.69 L231.41 191.27 L232.67 190.01 L232.67 198.85 M238.14 192.11 L238.14 191.69 L238.56 190.85 L238.98 190.43 L239.83 190.01 L241.51 190.01 L242.35 190.43 L242.77 190.85 L243.19 191.69 L243.19 192.53 L242.77 193.38 L241.93 194.64 L237.72 198.85 L243.61 198.85 M253.30 188.32 L245.72 201.80 M257.93 190.01 L256.67 190.43 L255.82 191.69 L255.40 193.80 L255.40 195.06 L255.82 197.17 L256.67 198.43 L257.93 198.85 L258.77 198.85 L260.03 198.43 L260.88 197.17 L261.30 195.06 L261.30 193.80 L260.88 191.69 L260.03 190.43 L258.77 190.01 L257.93 190.01 M269.30 191.27 L268.87 190.43 L267.61 190.01 L266.77 190.01 L265.51 190.43 L264.66 191.69 L264.24 193.80 L264.24 195.90 L264.66 197.59 L265.51 198.43 L266.77 198.85 L267.19 198.85 L268.45 198.43 L269.30 197.59 L269.72 196.32 L269.72 195.90 L269.30 194.64 L268.45 193.80 L267.19 193.38 L266.77 193.38 L265.51 193.80 L264.66 194.64 L264.24 195.90 M279.40 188.32 L271.82 201.80 M284.03 190.01 L282.77 190.43 L281.93 191.69 L281.50 193.80 L281.50 195.06 L281.93 197.17 L282.77 198.43 L284.03 198.85 L284.87 198.85 L286.13 198.43 L286.98 197.17 L287.40 195.06 L287.40 193.80 L286.98 191.69 L286.13 190.43 L284.87 190.01 L284.03 190.01 M290.77 190.01 L295.40 190.01 L292.87 193.38 L294.13 193.38 L294.98 193.80 L295.40 194.22 L295.82 195.48 L295.82 196.32 L295.40 197.59 L294.56 198.43 L293.29 198.85 L292.03 198.85 L290.77 198.43 L290.35 198.01 L289.92 197.17" stroke="#FFAA00" stroke-width="1.0" fill="none" stroke-linecap="round" stroke-linejoin="round"/>
<path d="M172.9 210.15H219" stroke="#FF0000" stroke-width="2" fill="none"/>
<path d="M229.72 207.26 L229.72 206.84 L230.14 206.00 L230.56 205.58 L231.41 205.16 L233.09 205.16 L233.93 205.58 L234.35 206.00 L234.77 206.84 L234.77 207.68 L234.35 208.53 L233.51 209.79 L229.30 214.00 L235.19 214.00 M242.77 205.16 L238.56 205.16 L238.14 208.95 L238.56 208.53 L239.83 208.11 L241.09 208.11 L242.35 208.53 L243.19 209.37 L243.61 210.63 L243.61 211.47 L243.19 212.74 L242.35 213.58 L241.09 214.00 L239.83 214.00 L238.56 213.58 L238.14 213.16 L237.72 212.32 M253.30 203.47 L245.72 216.95 M257.93 205.16 L256.67 205.58 L255.82 206.84 L255.40 208.95 L255.40 210.21 L255.82 212.32 L256.67 213.58 L257.93 214.00 L258.77 214.00 L260.03 213.58 L260.88 212.32 L261.30 210.21 L261.30 208.95 L260.88 206.84 L260.03 205.58 L258.77 205.16 L257.93 205.16 M269.72 205.16 L265.51 214.00 M263.82 205.16 L269.72 205.16 M279.40 203.47 L271.82 216.95 M284.03 205.16 L282.77 205.58 L281.93 206.84 L281.50 208.95 L281.50 210.21 L281.93 212.32 L282.77 213.58 L284.03 214.00 L284.87 214.00 L286.13 213.58 L286.98 212.32 L287.40 210.21 L287.40 208.95 L286.98 206.84 L286.13 205.58 L284.87 205.16 L284.03 205.16 M294.13 205.16 L289.92 211.05 L296.24 211.05 M294.13 205.16 L294.13 214.00" stroke="#FF0000" stroke-width="1.0" fill="none" stroke-linecap="round" stroke-linejoin="round"/>
<path d="M94.86 50.16 L96.43 49.37 L98.79 47.02 L98.79 63.50 M112.92 47.02 L110.56 47.80 L108.99 50.16 L108.21 54.08 L108.21 56.44 L108.99 60.36 L110.56 62.72 L112.92 63.50 L114.49 63.50 L116.84 62.72 L118.41 60.36 L119.20 56.44 L119.20 54.08 L118.41 50.16 L116.84 47.80 L114.49 47.02 L112.92 47.02" stroke="#111" stroke-width="1.55" fill="none" stroke-linecap="round" stroke-linejoin="round"/>
<path d="M124.47 43.99 L125.51 43.53 L127.07 42.13 L127.07 51.90 M134.47 43.99 L135.51 43.53 L137.07 42.13 L137.07 51.90" stroke="#111" stroke-width="1.30" fill="none" stroke-linecap="round" stroke-linejoin="round"/>
<path d="M94.86 121.56 L96.43 120.77 L98.79 118.42 L98.79 134.90 M112.92 118.42 L110.56 119.20 L108.99 121.56 L108.21 125.48 L108.21 127.84 L108.99 131.76 L110.56 134.12 L112.92 134.90 L114.49 134.90 L116.84 134.12 L118.41 131.76 L119.20 127.84 L119.20 125.48 L118.41 121.56 L116.84 119.20 L114.49 118.42 L112.92 118.42" stroke="#111" stroke-width="1.55" fill="none" stroke-linecap="round" stroke-linejoin="round"/>
<path d="M124.47 115.40 L125.51 114.93 L127.07 113.54 L127.07 123.30 M136.03 113.54 L134.47 114.00 L133.43 115.40 L132.91 117.72 L132.91 119.12 L133.43 121.44 L134.47 122.84 L136.03 123.30 L137.07 123.30 L138.63 122.84 L139.67 121.44 L140.19 119.12 L140.19 117.72 L139.67 115.40 L138.63 114.00 L137.07 113.54 L136.03 113.54" stroke="#111" stroke-width="1.30" fill="none" stroke-linecap="round" stroke-linejoin="round"/>
<path d="M104.34 199.96 L105.91 199.17 L108.27 196.81 L108.27 213.30 M122.40 196.81 L120.04 197.60 L118.47 199.96 L117.69 203.88 L117.69 206.24 L118.47 210.16 L120.04 212.52 L122.40 213.30 L123.97 213.30 L126.32 212.52 L127.89 210.16 L128.68 206.24 L128.68 203.88 L127.89 199.96 L126.32 197.60 L123.97 196.81 L122.40 196.81" stroke="#111" stroke-width="1.55" fill="none" stroke-linecap="round" stroke-linejoin="round"/>
<path d="M139.75 195.19 L139.23 196.59 L138.19 197.52 L136.63 197.98 L136.11 197.98 L134.55 197.52 L133.51 196.59 L132.99 195.19 L132.99 194.73 L133.51 193.33 L134.55 192.40 L136.11 191.94 L136.63 191.94 L138.19 192.40 L139.23 193.33 L139.75 195.19 L139.75 197.52 L139.23 199.84 L138.19 201.24 L136.63 201.70 L135.59 201.70 L134.03 201.24 L133.51 200.31" stroke="#111" stroke-width="1.30" fill="none" stroke-linecap="round" stroke-linejoin="round"/>
<path d="M104.34 278.45 L105.91 277.67 L108.27 275.31 L108.27 291.80 M122.40 275.31 L120.04 276.10 L118.47 278.45 L117.69 282.38 L117.69 284.74 L118.47 288.66 L120.04 291.01 L122.40 291.80 L123.97 291.80 L126.32 291.01 L127.89 288.66 L128.68 284.74 L128.68 282.38 L127.89 278.45 L126.32 276.10 L123.97 275.31 L122.40 275.31" stroke="#111" stroke-width="1.55" fill="none" stroke-linecap="round" stroke-linejoin="round"/>
<path d="M135.59 270.44 L134.03 270.90 L133.51 271.83 L133.51 272.76 L134.03 273.69 L135.07 274.15 L137.15 274.62 L138.71 275.08 L139.75 276.01 L140.27 276.94 L140.27 278.34 L139.75 279.27 L139.23 279.74 L137.67 280.20 L135.59 280.20 L134.03 279.74 L133.51 279.27 L132.99 278.34 L132.99 276.94 L133.51 276.01 L134.55 275.08 L136.11 274.62 L138.19 274.15 L139.23 273.69 L139.75 272.76 L139.75 271.83 L139.23 270.90 L137.67 270.44 L135.59 270.44" stroke="#111" stroke-width="1.30" fill="none" stroke-linecap="round" stroke-linejoin="round"/>
<path d="M104.34 347.45 L105.91 346.67 L108.27 344.31 L108.27 360.80 M122.40 344.31 L120.04 345.10 L118.47 347.45 L117.69 351.38 L117.69 353.74 L118.47 357.66 L120.04 360.01 L122.40 360.80 L123.97 360.80 L126.32 360.01 L127.89 357.66 L128.68 353.74 L128.68 351.38 L127.89 347.45 L126.32 345.10 L123.97 344.31 L122.40 344.31" stroke="#111" stroke-width="1.55" fill="none" stroke-linecap="round" stroke-linejoin="round"/>
<path d="M140.27 339.44 L135.07 349.20 M132.99 339.44 L140.27 339.44" stroke="#111" stroke-width="1.30" fill="none" stroke-linecap="round" stroke-linejoin="round"/>
<path d="M658.91 50.16 L660.48 49.37 L662.84 47.02 L662.84 63.50 M676.97 47.02 L674.61 47.80 L673.04 50.16 L672.25 54.08 L672.25 56.44 L673.04 60.36 L674.61 62.72 L676.97 63.50 L678.54 63.50 L680.89 62.72 L682.46 60.36 L683.25 56.44 L683.25 54.08 L682.46 50.16 L680.89 47.80 L678.54 47.02 L676.97 47.02" stroke="#111" stroke-width="1.55" fill="none" stroke-linecap="round" stroke-linejoin="round"/>
<path d="M688.52 43.99 L689.56 43.53 L691.12 42.13 L691.12 51.90 M698.52 43.99 L699.56 43.53 L701.12 42.13 L701.12 51.90" stroke="#111" stroke-width="1.30" fill="none" stroke-linecap="round" stroke-linejoin="round"/>
<path d="M658.91 121.56 L660.48 120.77 L662.84 118.42 L662.84 134.90 M676.97 118.42 L674.61 119.20 L673.04 121.56 L672.25 125.48 L672.25 127.84 L673.04 131.76 L674.61 134.12 L676.97 134.90 L678.54 134.90 L680.89 134.12 L682.46 131.76 L683.25 127.84 L683.25 125.48 L682.46 121.56 L680.89 119.20 L678.54 118.42 L676.97 118.42" stroke="#111" stroke-width="1.55" fill="none" stroke-linecap="round" stroke-linejoin="round"/>
<path d="M688.52 115.40 L689.56 114.93 L691.12 113.54 L691.12 123.30 M700.08 113.54 L698.52 114.00 L697.48 115.40 L696.96 117.72 L696.96 119.12 L697.48 121.44 L698.52 122.84 L700.08 123.30 L701.12 123.30 L702.68 122.84 L703.72 121.44 L704.24 119.12 L704.24 117.72 L703.72 115.40 L702.68 114.00 L701.12 113.54 L700.08 113.54" stroke="#111" stroke-width="1.30" fill="none" stroke-linecap="round" stroke-linejoin="round"/>
<path d="M658.91 199.96 L660.48 199.17 L662.84 196.81 L662.84 213.30 M676.97 196.81 L674.61 197.60 L673.04 199.96 L672.25 203.88 L672.25 206.24 L673.04 210.16 L674.61 212.52 L676.97 213.30 L678.54 213.30 L680.89 212.52 L682.46 210.16 L683.25 206.24 L683.25 203.88 L682.46 199.96 L680.89 197.60 L678.54 196.81 L676.97 196.81" stroke="#111" stroke-width="1.55" fill="none" stroke-linecap="round" stroke-linejoin="round"/>
<path d="M694.32 195.19 L693.80 196.59 L692.76 197.52 L691.20 197.98 L690.68 197.98 L689.12 197.52 L688.08 196.59 L687.56 195.19 L687.56 194.73 L688.08 193.33 L689.12 192.40 L690.68 191.94 L691.20 191.94 L692.76 192.40 L693.80 193.33 L694.32 195.19 L694.32 197.52 L693.80 199.84 L692.76 201.24 L691.20 201.70 L690.16 201.70 L688.60 201.24 L688.08 200.31" stroke="#111" stroke-width="1.30" fill="none" stroke-linecap="round" stroke-linejoin="round"/>
<path d="M658.91 278.45 L660.48 277.67 L662.84 275.31 L662.84 291.80 M676.97 275.31 L674.61 276.10 L673.04 278.45 L672.25 282.38 L672.25 284.74 L673.04 288.66 L674.61 291.01 L676.97 291.80 L678.54 291.80 L680.89 291.01 L682.46 288.66 L683.25 284.74 L683.25 282.38 L682.46 278.45 L680.89 276.10 L678.54 275.31 L676.97 275.31" stroke="#111" stroke-width="1.55" fill="none" stroke-linecap="round" stroke-linejoin="round"/>
<path d="M690.16 270.44 L688.60 270.90 L688.08 271.83 L688.08 272.76 L688.60 273.69 L689.64 274.15 L691.72 274.62 L693.28 275.08 L694.32 276.01 L694.84 276.94 L694.84 278.34 L694.32 279.27 L693.80 279.74 L692.24 280.20 L690.16 280.20 L688.60 279.74 L688.08 279.27 L687.56 278.34 L687.56 276.94 L688.08 276.01 L689.12 275.08 L690.68 274.62 L692.76 274.15 L693.80 273.69 L694.32 272.76 L694.32 271.83 L693.80 270.90 L692.24 270.44 L690.16 270.44" stroke="#111" stroke-width="1.30" fill="none" stroke-linecap="round" stroke-linejoin="round"/>
<path d="M658.91 347.45 L660.48 346.67 L662.84 344.31 L662.84 360.80 M676.97 344.31 L674.61 345.10 L673.04 347.45 L672.25 351.38 L672.25 353.74 L673.04 357.66 L674.61 360.01 L676.97 360.80 L678.54 360.80 L680.89 360.01 L682.46 357.66 L683.25 353.74 L683.25 351.38 L682.46 347.45 L680.89 345.10 L678.54 344.31 L676.97 344.31" stroke="#111" stroke-width="1.55" fill="none" stroke-linecap="round" stroke-linejoin="round"/>
<path d="M694.84 339.44 L689.64 349.20 M687.56 339.44 L694.84 339.44" stroke="#111" stroke-width="1.30" fill="none" stroke-linecap="round" stroke-linejoin="round"/>
<path d="M132.31 382.95 L133.88 382.17 L136.23 379.81 L136.23 396.30 M150.37 379.81 L148.01 380.60 L146.44 382.95 L145.66 386.88 L145.66 389.24 L146.44 393.16 L148.01 395.51 L150.37 396.30 L151.94 396.30 L154.29 395.51 L155.86 393.16 L156.64 389.24 L156.64 386.88 L155.86 382.95 L154.29 380.60 L151.94 379.81 L150.37 379.81" stroke="#111" stroke-width="1.55" fill="none" stroke-linecap="round" stroke-linejoin="round"/>
<path d="M167.72 378.19 L167.20 379.58 L166.16 380.51 L164.60 380.98 L164.08 380.98 L162.52 380.51 L161.48 379.58 L160.96 378.19 L160.96 377.72 L161.48 376.33 L162.52 375.40 L164.08 374.94 L164.60 374.94 L166.16 375.40 L167.20 376.33 L167.72 378.19 L167.72 380.51 L167.20 382.84 L166.16 384.24 L164.60 384.70 L163.56 384.70 L162.00 384.24 L161.48 383.31" stroke="#111" stroke-width="1.30" fill="none" stroke-linecap="round" stroke-linejoin="round"/>
<path d="M626.11 382.95 L627.68 382.17 L630.03 379.81 L630.03 396.30 M644.16 379.81 L641.81 380.60 L640.24 382.95 L639.45 386.88 L639.45 389.24 L640.24 393.16 L641.81 395.51 L644.16 396.30 L645.74 396.30 L648.09 395.51 L649.66 393.16 L650.44 389.24 L650.44 386.88 L649.66 382.95 L648.09 380.60 L645.74 379.81 L644.16 379.81" stroke="#111" stroke-width="1.55" fill="none" stroke-linecap="round" stroke-linejoin="round"/>
<path d="M655.72 376.80 L656.76 376.33 L658.32 374.94 L658.32 384.70 M667.28 374.94 L665.72 375.40 L664.68 376.80 L664.16 379.12 L664.16 380.51 L664.68 382.84 L665.72 384.24 L667.28 384.70 L668.32 384.70 L669.88 384.24 L670.92 382.84 L671.44 380.51 L671.44 379.12 L670.92 376.80 L669.88 375.40 L668.32 374.94 L667.28 374.94" stroke="#111" stroke-width="1.30" fill="none" stroke-linecap="round" stroke-linejoin="round"/>
<path d="M355.04 416.71 L355.04 427.70 M355.04 421.42 L355.82 419.06 L357.39 417.50 L358.96 416.71 L361.32 416.71" stroke="#111" stroke-width="1.55" fill="none" stroke-linecap="round" stroke-linejoin="round"/>
<path d="M364.10 426.99 L364.10 433.50 M364.10 428.85 L365.60 427.45 L366.60 426.99 L368.10 426.99 L369.10 427.45 L369.60 428.85 L369.60 433.50" stroke="#111" stroke-width="1.30" fill="none" stroke-linecap="round" stroke-linejoin="round"/>
<path d="M387.60 408.07 L387.60 433.19 M388.39 408.07 L388.39 433.19 M387.60 408.07 L393.10 408.07 M387.60 433.19 L393.10 433.19 M407.23 419.06 L405.66 417.50 L404.09 416.71 L401.73 416.71 L400.16 417.50 L398.59 419.06 L397.81 421.42 L397.81 422.99 L398.59 425.34 L400.16 426.91 L401.73 427.70 L404.09 427.70 L405.66 426.91 L407.23 425.34 M412.72 416.71 L412.72 427.70 M412.72 419.85 L415.08 417.50 L416.65 416.71 L419.00 416.71 L420.57 417.50 L421.36 419.85 L421.36 427.70 M421.36 419.85 L423.71 417.50 L425.28 416.71 L427.64 416.71 L429.21 417.50 L429.99 419.85 L429.99 427.70 M440.20 408.07 L440.20 433.19 M440.99 408.07 L440.99 433.19 M435.49 408.07 L440.99 408.07 M435.49 433.19 L440.99 433.19" stroke="#111" stroke-width="1.55" fill="none" stroke-linecap="round" stroke-linejoin="round"/>
<path d="M51.72 236.82 L68.20 236.82 M59.57 236.82 L58.00 238.39 L57.21 239.97 L57.21 242.32 L58.00 243.89 L59.57 245.46 L61.92 246.25 L63.49 246.25 L65.84 245.46 L67.42 243.89 L68.20 242.32 L68.20 239.97 L67.42 238.39 L65.84 236.82 M48.58 217.98 L73.70 217.98 M48.58 217.20 L73.70 217.20 M48.58 217.98 L48.58 212.49 M73.70 217.98 L73.70 212.49 M59.57 198.36 L58.00 199.93 L57.21 201.50 L57.21 203.85 L58.00 205.42 L59.57 207.00 L61.92 207.78 L63.49 207.78 L65.84 207.00 L67.42 205.42 L68.20 203.85 L68.20 201.50 L67.42 199.93 L65.84 198.36 M57.21 192.86 L68.20 192.86 M60.35 192.86 L58.00 190.51 L57.21 188.94 L57.21 186.58 L58.00 185.01 L60.35 184.23 L68.20 184.23 M60.35 184.23 L58.00 181.88 L57.21 180.31 L57.21 177.95 L58.00 176.38 L60.35 175.59 L68.20 175.59 M48.58 165.39 L73.70 165.39 M48.58 164.60 L73.70 164.60 M48.58 170.10 L48.58 164.60 M73.70 170.10 L73.70 164.60" stroke="#111" stroke-width="1.55" fill="none" stroke-linecap="round" stroke-linejoin="round"/>
</svg>
</body></html>
